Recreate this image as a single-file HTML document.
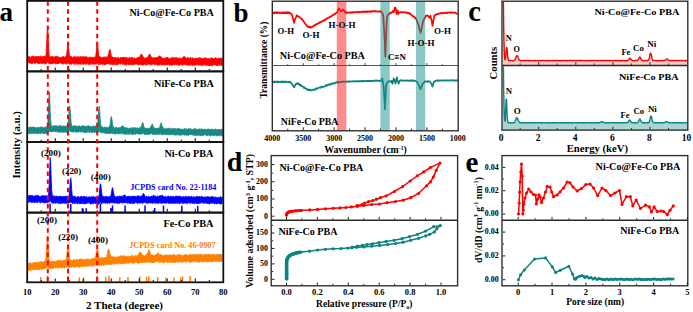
<!DOCTYPE html>
<html><head><meta charset="utf-8"><style>
html,body{margin:0;padding:0;background:#fff;width:693px;height:312px;overflow:hidden}
svg{display:block}
text{font-family:"Liberation Serif",serif}
</style></head><body>
<svg width="693" height="312" viewBox="0 0 693 312">
<polygon points="28.2,56.69 28.7,56.18 29.2,56.37 29.7,57.14 30.2,57.17 30.7,57.13 31.2,56.57 31.7,57.06 32.2,56.26 32.7,56.34 33.2,55.71 33.7,55.91 34.2,57.05 34.7,56.8 35.2,57.01 35.7,56.28 36.2,56.43 36.7,57.22 37.2,56.23 37.7,56.82 38.2,56.61 38.7,56.07 39.2,56.95 39.7,56.51 40.2,56.19 40.7,55.8 41.2,56.7 41.7,57.13 42.2,57.32 42.7,56.17 43.2,56 43.7,56.29 44.2,56.48 44.7,56.07 45.2,56.61 45.7,56.75 46.2,52.82 46.7,43.35 47.2,30.57 47.7,26.41 48.2,36.14 48.7,49.16 49.2,55.42 49.7,56.61 50.2,57.33 50.7,56.61 51.2,56.18 51.7,57.05 52.2,56.93 52.7,55.98 53.2,57.23 53.7,57.15 54.2,56.59 54.7,57.53 55.2,56.95 55.7,56.02 56.2,56.73 56.7,56.48 57.2,56.13 57.7,56.17 58.2,56.95 58.7,57.41 59.2,57.49 59.7,57.26 60.2,57.06 60.7,57.6 61.2,57.45 61.7,57.58 62.2,56.64 62.7,57.23 63.2,57.05 63.7,56.29 64.2,56.9 64.7,57.52 65.2,57.11 65.7,56.27 66.2,57.09 66.7,54.27 67.2,49.49 67.7,44.15 68.2,42.96 68.7,48.77 69.2,54.15 69.7,56.09 70.2,57.09 70.7,56.42 71.2,56.37 71.7,56.43 72.2,57.38 72.7,57.18 73.2,57.71 73.7,57.35 74.2,56.24 74.7,56.28 75.2,56.26 75.7,57.44 76.2,57.48 76.7,56.81 77.2,56.47 77.7,56.77 78.2,57.68 78.7,56.37 79.2,56.64 79.7,57.55 80.2,57.31 80.7,56.3 81.2,57.22 81.7,56.71 82.2,57.67 82.7,56.43 83.2,57.65 83.7,56.32 84.2,57.33 84.7,57.69 85.2,56.36 85.7,57.07 86.2,57.23 86.7,56.61 87.2,57.53 87.7,57.55 88.2,57.53 88.7,57.74 89.2,57.39 89.7,57.03 90.2,57.3 90.7,57.17 91.2,57.14 91.7,57.28 92.2,57.99 92.7,57.72 93.2,56.85 93.7,57.49 94.2,57.13 94.7,57.84 95.2,57.45 95.7,55.62 96.2,52.6 96.7,45.95 97.2,41.97 97.7,44.24 98.2,50.55 98.7,55.16 99.2,56.55 99.7,56.53 100.2,57.19 100.7,56.76 101.2,57.91 101.7,57.99 102.2,58 102.7,56.87 103.2,57.88 103.7,57.08 104.2,56.73 104.7,57.8 105.2,57.52 105.7,56.58 106.2,57.9 106.7,57.29 107.2,57.61 107.7,56.18 108.2,55.11 108.7,53.8 109.2,50.46 109.7,50.03 110.2,49.47 110.7,52.68 111.2,55.17 111.7,56.51 112.2,57.13 112.7,56.83 113.2,57.99 113.7,57.34 114.2,58.12 114.7,57.17 115.2,58.16 115.7,57.27 116.2,58.15 116.7,58.19 117.2,57.58 117.7,57.42 118.2,57.88 118.7,57.48 119.2,58.15 119.7,58.25 120.2,57.84 120.7,57.13 121.2,57.55 121.7,57.8 122.2,57.96 122.7,57.2 123.2,58.07 123.7,56.89 124.2,57.08 124.7,57.6 125.2,57.77 125.7,57.3 126.2,57.86 126.7,57.28 127.2,57.77 127.7,58.33 128.2,58.31 128.7,58.02 129.2,58.3 129.7,57.05 130.2,57.99 130.7,57.98 131.2,58.2 131.7,58.04 132.2,56.91 132.7,58.08 133.2,57.98 133.7,58.47 134.2,57.72 134.7,58.16 135.2,58.48 135.7,58.35 136.2,58.43 136.7,58.02 137.2,57.57 137.7,57.31 138.2,57.37 138.7,57.87 139.2,56.8 139.7,56.84 140.2,57.13 140.7,54.62 141.2,53.91 141.7,54.76 142.2,55.01 142.7,55.71 143.2,56.97 143.7,57.27 144.2,58.16 144.7,58.36 145.2,58.41 145.7,57.69 146.2,57.59 146.7,57.79 147.2,57.21 147.7,57.39 148.2,56.46 148.7,55.26 149.2,55.3 149.7,53.95 150.2,54.59 150.7,56.12 151.2,57.09 151.7,57.16 152.2,57.55 152.7,58.4 153.2,57.47 153.7,57.75 154.2,58.57 154.7,57.6 155.2,57.59 155.7,57.85 156.2,57.94 156.7,57.26 157.2,57.1 157.7,58.49 158.2,56.75 158.7,56.45 159.2,55.95 159.7,55.84 160.2,56.74 160.7,56.4 161.2,57.18 161.7,57.27 162.2,58.36 162.7,57.97 163.2,58.74 163.7,58.03 164.2,58.53 164.7,58.26 165.2,58.76 165.7,57.43 166.2,57.3 166.7,57.34 167.2,58.19 167.7,57.19 168.2,58.22 168.7,58.36 169.2,58.64 169.7,58.35 170.2,58.41 170.7,58 171.2,58.22 171.7,57.41 172.2,57.82 172.7,57.33 173.2,57.69 173.7,57.67 174.2,57.65 174.7,58.4 175.2,57.38 175.7,58.11 176.2,58.39 176.7,57.31 177.2,57.83 177.7,57.99 178.2,58.62 178.7,58.56 179.2,58.1 179.7,57.45 180.2,58.18 180.7,58.6 181.2,58.37 181.7,58.52 182.2,57.91 182.7,57.3 183.2,57.15 183.7,56.57 184.2,57.16 184.7,56.43 185.2,57.8 185.7,57.5 186.2,58.52 186.7,58.32 187.2,57.44 187.7,57.58 188.2,58.92 188.7,57.55 189.2,58.05 189.7,58.37 190.2,57.68 190.7,57.45 191.2,58.83 191.7,58.17 192.2,57.51 192.7,57.98 193.2,58.29 193.7,58.96 194.2,58.66 194.7,58.01 195.2,58.84 195.7,58.03 196.2,58.87 196.7,58.22 197.2,58.44 197.7,58.1 198.2,58.59 198.7,57.54 199.2,57.67 199.7,58.71 200.2,57.55 200.7,58.6 201.2,58.3 201.7,58.43 202.2,58.04 202.7,58.75 203.2,58.57 203.7,58.03 204.2,57.85 204.7,58.32 205.2,57.58 205.7,57.83 206.2,58.79 206.7,58.68 207.2,58.36 207.7,58.8 208.2,58.1 208.7,58.93 209.2,58.83 209.7,58.95 210.2,59.08 210.7,57.75 211.2,58.02 211.7,57.71 212.2,58.9 212.7,58.01 213.2,58.15 213.7,58.61 214.2,58.95 214.7,58.77 215.2,57.7 215.7,57.69 216.2,58.66 216.7,57.93 217.2,59.16 217.7,58.65 218.2,58.94 218.7,57.82 219.2,58.61 219.7,58.04 220.2,59.21 220.7,57.81 221.2,58.09 221.7,58.74 222.2,57.76 222.2,65.48 221.7,64.93 221.2,65.92 220.7,64.89 220.2,64.58 219.7,64.54 219.2,65.76 218.7,64.51 218.2,65.04 217.7,65.92 217.2,65.21 216.7,65.14 216.2,65.75 215.7,64.77 215.2,64.63 214.7,64.99 214.2,64.43 213.7,64.95 213.2,65.02 212.7,64.46 212.2,65.9 211.7,64.93 211.2,65.99 210.7,65.8 210.2,65.01 209.7,64.46 209.2,65.93 208.7,65 208.2,65.88 207.7,65.03 207.2,64.66 206.7,65.87 206.2,65.56 205.7,64.71 205.2,64.84 204.7,64.66 204.2,65.51 203.7,64.64 203.2,64.99 202.7,64.37 202.2,65.79 201.7,64.72 201.2,65.38 200.7,64.33 200.2,65.42 199.7,64.68 199.2,65.04 198.7,65.31 198.2,65.01 197.7,64.29 197.2,64.62 196.7,65.19 196.2,64.37 195.7,65.37 195.2,64.65 194.7,64.73 194.2,65.71 193.7,65.48 193.2,65.11 192.7,65.45 192.2,65.37 191.7,65.31 191.2,64.46 190.7,64.6 190.2,65.57 189.7,65.68 189.2,64.19 188.7,64.94 188.2,65.32 187.7,64.21 187.2,65.53 186.7,64.88 186.2,64.56 185.7,64.5 185.2,65.14 184.7,64.3 184.2,64.51 183.7,64.59 183.2,64.92 182.7,64.77 182.2,65.54 181.7,64.54 181.2,64.27 180.7,64.26 180.2,64.33 179.7,65.7 179.2,64.45 178.7,65.54 178.2,64.35 177.7,64.72 177.2,64.56 176.7,64.49 176.2,65.25 175.7,64.62 175.2,64.27 174.7,64.14 174.2,65.08 173.7,64.77 173.2,64.13 172.7,64.92 172.2,65.5 171.7,65.33 171.2,65.55 170.7,64.33 170.2,64.44 169.7,65.51 169.2,65.34 168.7,64.08 168.2,64.68 167.7,64.94 167.2,64.62 166.7,64.45 166.2,65.12 165.7,64.17 165.2,65.17 164.7,65.31 164.2,64.51 163.7,64.44 163.2,64.74 162.7,63.99 162.2,65.38 161.7,65.06 161.2,64.74 160.7,64.1 160.2,64.68 159.7,64.72 159.2,65.31 158.7,64.27 158.2,65.42 157.7,64.63 157.2,65.39 156.7,64.21 156.2,64.08 155.7,64.63 155.2,64.35 154.7,64.98 154.2,64.3 153.7,63.89 153.2,64.35 152.7,64.26 152.2,63.97 151.7,64.82 151.2,64.9 150.7,64.36 150.2,65.25 149.7,63.98 149.2,64.09 148.7,64.12 148.2,63.87 147.7,64.65 147.2,65 146.7,63.81 146.2,64.88 145.7,64.8 145.2,65.12 144.7,64.36 144.2,63.83 143.7,64.87 143.2,65.16 142.7,65.01 142.2,64.96 141.7,64.41 141.2,64.88 140.7,64.62 140.2,65.01 139.7,64.74 139.2,63.97 138.7,64.25 138.2,65.13 137.7,64.77 137.2,64.56 136.7,64.08 136.2,63.74 135.7,64.34 135.2,64.12 134.7,64.5 134.2,64.49 133.7,64.29 133.2,64.25 132.7,65.22 132.2,64.54 131.7,65.2 131.2,64.37 130.7,64.39 130.2,64.04 129.7,64.72 129.2,64.99 128.7,63.9 128.2,64.82 127.7,63.84 127.2,64.18 126.7,64.63 126.2,64.94 125.7,65.18 125.2,64.41 124.7,64.93 124.2,64.28 123.7,63.76 123.2,64.34 122.7,64.46 122.2,63.59 121.7,63.59 121.2,63.84 120.7,64.01 120.2,64.03 119.7,63.86 119.2,63.79 118.7,63.91 118.2,63.73 117.7,64.99 117.2,64.05 116.7,64.88 116.2,64.86 115.7,64.77 115.2,64.98 114.7,64.16 114.2,63.56 113.7,64.58 113.2,64.92 112.7,63.86 112.2,64.88 111.7,63.58 111.2,64.53 110.7,63.58 110.2,64.6 109.7,64.58 109.2,63.89 108.7,63.71 108.2,63.99 107.7,63.38 107.2,63.88 106.7,63.92 106.2,64.06 105.7,64.69 105.2,64.14 104.7,64.87 104.2,64.89 103.7,63.57 103.2,64.48 102.7,64.76 102.2,64.39 101.7,63.7 101.2,64.02 100.7,63.52 100.2,64.8 99.7,63.7 99.2,64.66 98.7,64.68 98.2,63.79 97.7,63.72 97.2,63.31 96.7,63.43 96.2,64.24 95.7,63.99 95.2,63.67 94.7,64.12 94.2,64.48 93.7,64.05 93.2,64.1 92.7,63.96 92.2,64.48 91.7,63.49 91.2,63.22 90.7,64.03 90.2,64.64 89.7,64.61 89.2,63.89 88.7,64.61 88.2,63.82 87.7,64.08 87.2,63.61 86.7,63.47 86.2,64.52 85.7,64.61 85.2,64.15 84.7,63.13 84.2,63.98 83.7,64.14 83.2,64.41 82.7,64.37 82.2,63.32 81.7,63.34 81.2,64.58 80.7,63.69 80.2,64.33 79.7,64.31 79.2,63.8 78.7,64.28 78.2,64.08 77.7,64.3 77.2,63.78 76.7,64.45 76.2,63.33 75.7,63.36 75.2,63.57 74.7,64.56 74.2,63.69 73.7,64.08 73.2,63.41 72.7,63.01 72.2,63.78 71.7,64.13 71.2,64.23 70.7,64.51 70.2,63.28 69.7,64.13 69.2,63.98 68.7,63.07 68.2,63.35 67.7,63.83 67.2,62.57 66.7,62.99 66.2,64.37 65.7,63.13 65.2,63.29 64.7,63.02 64.2,63.63 63.7,64.43 63.2,63.04 62.7,63.39 62.2,63.07 61.7,64.22 61.2,63.4 60.7,63.05 60.2,62.89 59.7,63.06 59.2,62.9 58.7,63.8 58.2,63.42 57.7,64.05 57.2,64.01 56.7,62.85 56.2,63.74 55.7,63.85 55.2,63.65 54.7,63.41 54.2,63.15 53.7,63.5 53.2,63.09 52.7,62.96 52.2,64.12 51.7,63.37 51.2,64.08 50.7,64.1 50.2,63.4 49.7,64.06 49.2,62.98 48.7,63.48 48.2,61.8 47.7,61.84 47.2,62.4 46.7,62.46 46.2,64.04 45.7,63.72 45.2,63.68 44.7,64.13 44.2,63.34 43.7,63.56 43.2,63.1 42.7,63.51 42.2,63.65 41.7,63.36 41.2,63.78 40.7,62.76 40.2,63.02 39.7,63.95 39.2,63.47 38.7,63.66 38.2,63.02 37.7,63.47 37.2,63.21 36.7,62.85 36.2,62.62 35.7,63.1 35.2,63.43 34.7,63.8 34.2,62.68 33.7,62.95 33.2,62.55 32.7,63.11 32.2,63.98 31.7,62.82 31.2,63.77 30.7,62.59 30.2,63.13 29.7,63.25 29.2,63.01 28.7,62.54 28.2,62.66" fill="#ff0000" stroke="#ff0000" stroke-width="0.8" stroke-linejoin="round" />
<polygon points="28.2,127.83 28.7,127.74 29.2,128.18 29.7,126.89 30.2,126.85 30.7,127.84 31.2,126.82 31.7,127.62 32.2,127.55 32.7,126.85 33.2,127.02 33.7,126.99 34.2,127.28 34.7,127.68 35.2,127.03 35.7,127.85 36.2,127.77 36.7,128.07 37.2,127.65 37.7,126.86 38.2,127.73 38.7,127.96 39.2,127.09 39.7,127.76 40.2,127.21 40.7,127.02 41.2,127.14 41.7,126.88 42.2,127.26 42.7,127.02 43.2,127.7 43.7,127.83 44.2,127.23 44.7,127.48 45.2,127.32 45.7,126.89 46.2,126.63 46.7,127.31 47.2,126.4 47.7,125.22 48.2,117.26 48.7,101.93 49.2,91.74 49.7,96.61 50.2,111.48 50.7,120.83 51.2,125.05 51.7,126.21 52.2,126.3 52.7,126.15 53.2,125.6 53.7,126.51 54.2,125.57 54.7,126.09 55.2,125.42 55.7,126.45 56.2,125.99 56.7,125.65 57.2,126.32 57.7,125.98 58.2,126.13 58.7,126.13 59.2,126.07 59.7,125.36 60.2,126.07 60.7,125.56 61.2,126.58 61.7,126 62.2,126.03 62.7,125.96 63.2,126.59 63.7,125.71 64.2,126.49 64.7,126.1 65.2,126.42 65.7,125.9 66.2,126.48 66.7,125.51 67.2,126.3 67.7,124.8 68.2,123.41 68.7,117.38 69.2,109.64 69.7,105.75 70.2,109.81 70.7,118.13 71.2,122.95 71.7,125.86 72.2,125.9 72.7,126.52 73.2,125.68 73.7,126.65 74.2,125.65 74.7,125.54 75.2,125.88 75.7,125.84 76.2,126.14 76.7,126.14 77.2,126.11 77.7,126.71 78.2,126.06 78.7,125.68 79.2,126.11 79.7,126.1 80.2,126.59 80.7,126.64 81.2,126.06 81.7,125.89 82.2,125.76 82.7,126.07 83.2,126.1 83.7,125.51 84.2,125.75 84.7,126.12 85.2,127.07 85.7,126.71 86.2,125.99 86.7,125.97 87.2,126.84 87.7,125.8 88.2,125.59 88.7,125.7 89.2,126.15 89.7,126.56 90.2,126.15 90.7,126.81 91.2,126.64 91.7,125.92 92.2,126.64 92.7,126.72 93.2,125.99 93.7,125.67 94.2,126.08 94.7,126.76 95.2,126.04 95.7,125.85 96.2,125.62 96.7,126.49 97.2,125.95 97.7,123.48 98.2,117.86 98.7,110.14 99.2,106.08 99.7,110.61 100.2,119.07 100.7,123.9 101.2,126.22 101.7,127.27 102.2,126.65 102.7,127.62 103.2,127.52 103.7,127.4 104.2,126.94 104.7,126.93 105.2,127.67 105.7,127.56 106.2,127.82 106.7,126.77 107.2,127.48 107.7,128.07 108.2,127.34 108.7,127.23 109.2,126.61 109.7,126.51 110.2,123.91 110.7,118.97 111.2,116.52 111.7,117.95 112.2,120.96 112.7,125.73 113.2,127.05 113.7,127.12 114.2,127.93 114.7,128.32 115.2,127.29 115.7,128.39 116.2,127.36 116.7,127.37 117.2,128.11 117.7,128.11 118.2,127.97 118.7,127.47 119.2,127.46 119.7,127.68 120.2,127.31 120.7,127.91 121.2,126.61 121.7,126.21 122.2,126.59 122.7,125.77 123.2,126.09 123.7,126.45 124.2,127.82 124.7,127.54 125.2,127.59 125.7,127.9 126.2,127.59 126.7,127.97 127.2,127.79 127.7,128.3 128.2,128.5 128.7,128.41 129.2,128.48 129.7,128.15 130.2,128.6 130.7,127.68 131.2,127.68 131.7,128.58 132.2,128.17 132.7,127.53 133.2,128.6 133.7,127.42 134.2,128.56 134.7,128.56 135.2,127.53 135.7,127.84 136.2,127.85 136.7,128.61 137.2,127.69 137.7,128.32 138.2,128.75 138.7,128.39 139.2,128.27 139.7,127.41 140.2,127.44 140.7,128.17 141.2,126.61 141.7,125.17 142.2,123.41 142.7,122.52 143.2,123.54 143.7,126.34 144.2,126.67 144.7,128.5 145.2,128.11 145.7,128.62 146.2,128.42 146.7,128.55 147.2,128.53 147.7,127.95 148.2,128.79 148.7,128.83 149.2,127.96 149.7,127.99 150.2,128.06 150.7,126.73 151.2,125.65 151.7,125.44 152.2,123.94 152.7,125.2 153.2,126.58 153.7,127.28 154.2,127.62 154.7,128.47 155.2,128.82 155.7,128.13 156.2,128.84 156.7,128 157.2,128.91 157.7,127.85 158.2,128.8 158.7,127.96 159.2,128.29 159.7,127.15 160.2,125.17 160.7,123.92 161.2,122.57 161.7,124.77 162.2,126.46 162.7,126.64 163.2,127.77 163.7,128.83 164.2,129.04 164.7,128.67 165.2,128.66 165.7,128.26 166.2,128.35 166.7,129.05 167.2,128.69 167.7,127.99 168.2,128.47 168.7,128.69 169.2,128.28 169.7,128.21 170.2,128.11 170.7,128.42 171.2,128.89 171.7,129.2 172.2,128.25 172.7,128.47 173.2,128.77 173.7,128.5 174.2,128.44 174.7,129.14 175.2,128.31 175.7,128.72 176.2,129.37 176.7,129.21 177.2,128.12 177.7,129.31 178.2,128.7 178.7,128.75 179.2,128.31 179.7,128.91 180.2,129.2 180.7,128.96 181.2,129.35 181.7,129.03 182.2,129.15 182.7,129.53 183.2,128.96 183.7,129.07 184.2,129.26 184.7,128.26 185.2,129.29 185.7,129.05 186.2,129.43 186.7,128.48 187.2,128.97 187.7,129.32 188.2,129.15 188.7,128.51 189.2,129.01 189.7,128.91 190.2,128.51 190.7,128.5 191.2,129.18 191.7,129.12 192.2,129.72 192.7,129.34 193.2,129.32 193.7,129.15 194.2,128.84 194.7,128.47 195.2,129.7 195.7,128.52 196.2,129.6 196.7,128.92 197.2,129.8 197.7,128.91 198.2,129.7 198.7,129.52 199.2,129.37 199.7,128.6 200.2,129.64 200.7,129.03 201.2,128.95 201.7,128.8 202.2,129.64 202.7,129.18 203.2,129.32 203.7,129.16 204.2,129.62 204.7,129.27 205.2,129.31 205.7,129.29 206.2,129.23 206.7,129.99 207.2,129.35 207.7,129.08 208.2,129.5 208.7,128.69 209.2,129.15 209.7,130.01 210.2,129.1 210.7,129.61 211.2,129.37 211.7,128.83 212.2,129.09 212.7,129.64 213.2,129.61 213.7,129.39 214.2,129.84 214.7,129.56 215.2,129 215.7,129 216.2,129.47 216.7,129.48 217.2,129.28 217.7,129.74 218.2,129.79 218.7,129.33 219.2,130.18 219.7,129 220.2,130.18 220.7,130.25 221.2,128.98 221.7,129.36 222.2,129.01 222.2,135.74 221.7,135.98 221.2,135.72 220.7,135.12 220.2,135.26 219.7,135.6 219.2,135.84 218.7,135.92 218.2,135.63 217.7,135.24 217.2,135.9 216.7,136.15 216.2,135.15 215.7,135.32 215.2,135.16 214.7,135.52 214.2,135.34 213.7,135.8 213.2,135.38 212.7,135.91 212.2,135.57 211.7,134.73 211.2,135.35 210.7,136.04 210.2,135.96 209.7,135.5 209.2,135.53 208.7,134.73 208.2,135.2 207.7,135.79 207.2,135.39 206.7,135.77 206.2,135.79 205.7,135.27 205.2,134.76 204.7,134.63 204.2,134.74 203.7,134.9 203.2,135.76 202.7,135.55 202.2,135.48 201.7,135.67 201.2,135.74 200.7,135.57 200.2,135.72 199.7,135.57 199.2,134.66 198.7,135.53 198.2,134.63 197.7,134.77 197.2,135.75 196.7,134.42 196.2,135.56 195.7,135.48 195.2,135.53 194.7,135.56 194.2,134.86 193.7,135.24 193.2,135.01 192.7,134.67 192.2,135.33 191.7,134.56 191.2,134.65 190.7,134.66 190.2,134.77 189.7,134.44 189.2,134.67 188.7,135.39 188.2,135.14 187.7,135.58 187.2,135.01 186.7,135.1 186.2,135.29 185.7,134.49 185.2,135.31 184.7,134.91 184.2,135.2 183.7,134.53 183.2,135.12 182.7,134.72 182.2,134.69 181.7,134.19 181.2,135.49 180.7,135.17 180.2,135.05 179.7,135.41 179.2,134.8 178.7,134.96 178.2,135.06 177.7,134.85 177.2,134.76 176.7,135.12 176.2,134.77 175.7,135.37 175.2,134.54 174.7,134.9 174.2,135.28 173.7,134.54 173.2,134.59 172.7,134.3 172.2,134.94 171.7,134.52 171.2,134.8 170.7,134.55 170.2,134.85 169.7,134.87 169.2,135.12 168.7,134.19 168.2,134.92 167.7,134.46 167.2,134.89 166.7,134.69 166.2,134.48 165.7,134.53 165.2,134.93 164.7,133.85 164.2,134.09 163.7,134.68 163.2,134.37 162.7,134.83 162.2,134.18 161.7,134.9 161.2,134.51 160.7,133.77 160.2,133.79 159.7,134.1 159.2,133.9 158.7,134.88 158.2,134.12 157.7,134.02 157.2,134.33 156.7,134.49 156.2,134.28 155.7,134.7 155.2,134.83 154.7,134.09 154.2,134.52 153.7,134.63 153.2,134.16 152.7,134.68 152.2,134.11 151.7,133.8 151.2,133.51 150.7,133.64 150.2,134.1 149.7,134.05 149.2,134.65 148.7,134.65 148.2,134.43 147.7,134.22 147.2,133.82 146.7,134.83 146.2,134.67 145.7,134.18 145.2,134.6 144.7,134.14 144.2,134.78 143.7,133.61 143.2,133.48 142.7,133.31 142.2,133.5 141.7,134.25 141.2,134.42 140.7,133.96 140.2,134.26 139.7,134.1 139.2,133.83 138.7,134.38 138.2,133.72 137.7,133.95 137.2,133.64 136.7,133.48 136.2,133.73 135.7,134.48 135.2,134.46 134.7,133.35 134.2,133.59 133.7,134.62 133.2,134.5 132.7,134.53 132.2,134.41 131.7,134.09 131.2,134.28 130.7,134.13 130.2,133.29 129.7,133.42 129.2,134.52 128.7,133.24 128.2,134.48 127.7,134.06 127.2,133.61 126.7,134.19 126.2,134.37 125.7,134.34 125.2,134.52 124.7,134.11 124.2,134.39 123.7,133.54 123.2,133.5 122.7,134.35 122.2,133.35 121.7,133.06 121.2,133.36 120.7,133.97 120.2,133.8 119.7,133.67 119.2,133.42 118.7,134.23 118.2,134.08 117.7,133.08 117.2,133.16 116.7,133.64 116.2,133.65 115.7,134.18 115.2,133.99 114.7,134.22 114.2,133.39 113.7,133.2 113.2,133.82 112.7,133.68 112.2,132.83 111.7,133.18 111.2,133.42 110.7,132.8 110.2,133.43 109.7,134.07 109.2,133.84 108.7,133.39 108.2,133.22 107.7,133.59 107.2,133 106.7,133.69 106.2,133.44 105.7,132.7 105.2,133.76 104.7,133.07 104.2,132.64 103.7,133.13 103.2,132.76 102.7,132.71 102.2,132.2 101.7,132.44 101.2,133.3 100.7,132.5 100.2,131.78 99.7,131.12 99.2,131.8 98.7,132.41 98.2,131.74 97.7,131.68 97.2,131.92 96.7,132.72 96.2,132.42 95.7,131.93 95.2,132.07 94.7,132.89 94.2,132.73 93.7,132.26 93.2,131.98 92.7,132.22 92.2,132.57 91.7,132.72 91.2,132.78 90.7,131.71 90.2,131.9 89.7,131.81 89.2,132.73 88.7,131.64 88.2,131.82 87.7,131.65 87.2,131.92 86.7,132.74 86.2,131.67 85.7,132.78 85.2,132.81 84.7,132.56 84.2,132.8 83.7,131.58 83.2,131.92 82.7,131.46 82.2,132.47 81.7,131.49 81.2,131.42 80.7,131.98 80.2,131.96 79.7,131.5 79.2,131.6 78.7,132.44 78.2,131.67 77.7,132.2 77.2,131.94 76.7,132.25 76.2,132.14 75.7,131.75 75.2,132.08 74.7,131.47 74.2,131.35 73.7,132.09 73.2,132.55 72.7,131.63 72.2,131.82 71.7,131.81 71.2,131.4 70.7,132.06 70.2,130.79 69.7,130.5 69.2,131.34 68.7,131.4 68.2,131.19 67.7,132.59 67.2,131.41 66.7,132.59 66.2,131.92 65.7,132.52 65.2,131.62 64.7,131.92 64.2,132.08 63.7,132.48 63.2,131.97 62.7,131.42 62.2,132.43 61.7,132.34 61.2,132.45 60.7,131.46 60.2,131.45 59.7,132.57 59.2,131.75 58.7,131.95 58.2,132.49 57.7,131.55 57.2,132.12 56.7,131.27 56.2,131.91 55.7,131.27 55.2,131.89 54.7,131.41 54.2,131.37 53.7,131.57 53.2,131.39 52.7,131.94 52.2,131.38 51.7,131.72 51.2,132.22 50.7,131.49 50.2,132.1 49.7,131.11 49.2,130.94 48.7,131.93 48.2,132.26 47.7,132.87 47.2,133.87 46.7,133.76 46.2,132.75 45.7,133.53 45.2,132.95 44.7,134.02 44.2,133.09 43.7,133.88 43.2,132.98 42.7,132.92 42.2,133.17 41.7,133.07 41.2,132.83 40.7,133.85 40.2,133.62 39.7,133.26 39.2,133.31 38.7,133.38 38.2,132.81 37.7,134.08 37.2,134.08 36.7,133.48 36.2,132.8 35.7,133.77 35.2,132.83 34.7,133.23 34.2,133.19 33.7,133.82 33.2,133.77 32.7,133 32.2,133.44 31.7,133.1 31.2,134.1 30.7,133.43 30.2,132.8 29.7,133.66 29.2,133.84 28.7,133.17 28.2,133.79" fill="#168a85" stroke="#168a85" stroke-width="0.8" stroke-linejoin="round" />
<polygon points="28.2,195.5 28.7,195.39 29.2,195.42 29.7,195.44 30.2,195.31 30.7,196.2 31.2,195.3 31.7,195.49 32.2,195.24 32.7,195.65 33.2,196.05 33.7,196.03 34.2,195.55 34.7,196.45 35.2,196.48 35.7,195.31 36.2,195.16 36.7,196.54 37.2,195.67 37.7,195.08 38.2,195.95 38.7,195.61 39.2,196.36 39.7,196.59 40.2,196.42 40.7,196.48 41.2,196.43 41.7,195.54 42.2,195.52 42.7,196.57 43.2,195.57 43.7,195.55 44.2,195.71 44.7,195.97 45.2,196.29 45.7,195.6 46.2,196.67 46.7,195.46 47.2,196.23 47.7,196.42 48.2,195.52 48.7,193.18 49.2,184.47 49.7,169.32 50.2,157.56 50.7,162.55 51.2,178.87 51.7,189.95 52.2,195.01 52.7,196.74 53.2,195.9 53.7,196.5 54.2,195.54 54.7,196.14 55.2,196.43 55.7,196.53 56.2,196.22 56.7,195.93 57.2,197.18 57.7,196.56 58.2,195.99 58.7,197.19 59.2,196.05 59.7,196.44 60.2,196.03 60.7,196.29 61.2,196.81 61.7,196.5 62.2,197.04 62.7,195.94 63.2,196.44 63.7,196.66 64.2,196.99 64.7,196.18 65.2,197.25 65.7,196.22 66.2,196.52 66.7,196.06 67.2,196.69 67.7,197.13 68.2,197.11 68.7,196.52 69.2,194.78 69.7,190.07 70.2,180.8 70.7,177.86 71.2,181.12 71.7,189.4 72.2,194.63 72.7,197.07 73.2,196.13 73.7,196.63 74.2,196.31 74.7,196.07 75.2,196.27 75.7,197.13 76.2,197.22 76.7,197.4 77.2,196.69 77.7,196.84 78.2,196.16 78.7,196.64 79.2,197.38 79.7,197.18 80.2,196.6 80.7,196.56 81.2,196.9 81.7,196.12 82.2,197.26 82.7,197.21 83.2,196.24 83.7,196.34 84.2,196.43 84.7,196.65 85.2,197.55 85.7,196.49 86.2,196.62 86.7,196.75 87.2,197.5 87.7,197.28 88.2,196.94 88.7,197.32 89.2,196.65 89.7,196.6 90.2,197.64 90.7,197.37 91.2,196.39 91.7,197.5 92.2,197.58 92.7,196.45 93.2,197.05 93.7,196.49 94.2,196.79 94.7,197.42 95.2,196.68 95.7,197.55 96.2,197.37 96.7,197.54 97.2,196.51 97.7,197.52 98.2,197.2 98.7,196.88 99.2,194.68 99.7,188.91 100.2,184.1 100.7,183.83 101.2,188.21 101.7,192.43 102.2,196.56 102.7,196.18 103.2,196.57 103.7,196.18 104.2,196.43 104.7,197.42 105.2,196.35 105.7,197.31 106.2,196.19 106.7,196.68 107.2,197.26 107.7,196.43 108.2,197.37 108.7,196.55 109.2,197.03 109.7,196.49 110.2,196.07 110.7,196.49 111.2,194.12 111.7,191.17 112.2,188.11 112.7,187.72 113.2,190.83 113.7,193.29 114.2,195.14 114.7,196.79 115.2,196.64 115.7,196.66 116.2,197.22 116.7,196.55 117.2,197.04 117.7,195.99 118.2,196.74 118.7,196.65 119.2,197.14 119.7,195.78 120.2,196.45 120.7,196.42 121.2,195.76 121.7,196.92 122.2,196.72 122.7,196.82 123.2,195.39 123.7,195.99 124.2,194.94 124.7,194.95 125.2,195.13 125.7,196.8 126.2,196.36 126.7,196.79 127.2,196.63 127.7,196.35 128.2,197.03 128.7,196.12 129.2,196 129.7,196.66 130.2,195.98 130.7,196.66 131.2,196.08 131.7,196.89 132.2,196.6 132.7,196.04 133.2,196.02 133.7,197.18 134.2,195.81 134.7,196.89 135.2,196.31 135.7,196.46 136.2,196.61 136.7,197.24 137.2,195.8 137.7,195.85 138.2,196.04 138.7,195.93 139.2,196.3 139.7,196.25 140.2,196.45 140.7,196.32 141.2,196.4 141.7,195.51 142.2,195.95 142.7,195.39 143.2,193.32 143.7,194.13 144.2,194.24 144.7,195.75 145.2,196.24 145.7,196.65 146.2,197.11 146.7,196.01 147.2,196.43 147.7,196.99 148.2,196.6 148.7,196.37 149.2,196.83 149.7,196.96 150.2,196.72 150.7,197.28 151.2,195.96 151.7,196.32 152.2,196.5 152.7,196.12 153.2,195.99 153.7,194.8 154.2,196.25 154.7,196.06 155.2,196.89 155.7,195.77 156.2,197.06 156.7,196.78 157.2,196.38 157.7,196.07 158.2,196.2 158.7,196.16 159.2,196.11 159.7,195.85 160.2,195.74 160.7,195.57 161.2,195.6 161.7,195.26 162.2,195.04 162.7,195.66 163.2,196.27 163.7,196.09 164.2,196.7 164.7,196.74 165.2,196.14 165.7,196.58 166.2,197.06 166.7,197.12 167.2,196.46 167.7,195.95 168.2,196.06 168.7,195.89 169.2,196.7 169.7,197.33 170.2,196.49 170.7,195.95 171.2,196.53 171.7,196.57 172.2,196.31 172.7,196.81 173.2,196.82 173.7,196.33 174.2,197.21 174.7,196.75 175.2,196.49 175.7,195.9 176.2,196.69 176.7,195.85 177.2,196.56 177.7,197.11 178.2,195.88 178.7,196.59 179.2,196.02 179.7,196.14 180.2,196.07 180.7,197.23 181.2,196.73 181.7,197.23 182.2,196.52 182.7,196.89 183.2,196.43 183.7,196.76 184.2,196.92 184.7,197.38 185.2,196.11 185.7,196.37 186.2,196.63 186.7,196.98 187.2,196.58 187.7,196.52 188.2,197.21 188.7,196.24 189.2,197.24 189.7,196.6 190.2,196.47 190.7,197.3 191.2,196.23 191.7,196.31 192.2,197.14 192.7,197.25 193.2,196.53 193.7,196.77 194.2,197.45 194.7,196.79 195.2,197.13 195.7,197.43 196.2,196.29 196.7,197.08 197.2,196.23 197.7,196.51 198.2,196.67 198.7,197.05 199.2,196.33 199.7,196.95 200.2,196.69 200.7,197.07 201.2,196.91 201.7,195.99 202.2,196.62 202.7,196.68 203.2,196.89 203.7,197.33 204.2,197 204.7,197.25 205.2,197.2 205.7,196.56 206.2,197.34 206.7,197.45 207.2,196.34 207.7,196.95 208.2,196.41 208.7,197.11 209.2,197.09 209.7,197.36 210.2,196.92 210.7,197.01 211.2,196.64 211.7,196.36 212.2,197.18 212.7,196.83 213.2,196.44 213.7,197 214.2,197.38 214.7,197.22 215.2,196.95 215.7,197.24 216.2,197.57 216.7,197.35 217.2,197.66 217.7,197.27 218.2,197.38 218.7,197.39 219.2,197.71 219.7,197.5 220.2,196.56 220.7,196.62 221.2,197.77 221.7,197.94 222.2,196.99 222.2,203.49 221.7,203.98 221.2,203.35 220.7,204.23 220.2,204.08 219.7,203.51 219.2,203.97 218.7,203.21 218.2,202.95 217.7,203.6 217.2,203.68 216.7,203.82 216.2,204.1 215.7,202.92 215.2,203.25 214.7,203.76 214.2,203.92 213.7,203.56 213.2,202.91 212.7,203.03 212.2,203.07 211.7,203.58 211.2,203.07 210.7,202.86 210.2,202.99 209.7,204.08 209.2,204.08 208.7,203.71 208.2,202.84 207.7,203.85 207.2,202.76 206.7,202.96 206.2,203.61 205.7,203.05 205.2,202.57 204.7,202.93 204.2,202.86 203.7,203.73 203.2,202.56 202.7,203.04 202.2,202.61 201.7,202.87 201.2,202.69 200.7,202.66 200.2,203.59 199.7,203.71 199.2,202.71 198.7,202.97 198.2,203.82 197.7,203.83 197.2,202.84 196.7,203.75 196.2,203.68 195.7,202.46 195.2,203.33 194.7,203.84 194.2,203.73 193.7,202.95 193.2,202.89 192.7,203.74 192.2,202.77 191.7,202.9 191.2,202.85 190.7,202.38 190.2,203.58 189.7,203.61 189.2,202.61 188.7,202.52 188.2,202.59 187.7,202.98 187.2,203.87 186.7,203.33 186.2,203.19 185.7,202.65 185.2,203.24 184.7,202.81 184.2,203.39 183.7,203.54 183.2,202.41 182.7,203.85 182.2,203.26 181.7,202.62 181.2,203.11 180.7,202.78 180.2,202.98 179.7,203.84 179.2,203.38 178.7,202.5 178.2,203.58 177.7,202.81 177.2,203.57 176.7,202.85 176.2,203.27 175.7,203.06 175.2,203.66 174.7,203.17 174.2,202.89 173.7,203.12 173.2,203.76 172.7,203.22 172.2,202.91 171.7,203.1 171.2,203.83 170.7,203.49 170.2,203.07 169.7,202.38 169.2,203.69 168.7,202.62 168.2,203.58 167.7,202.8 167.2,202.44 166.7,203.18 166.2,202.76 165.7,202.97 165.2,203.59 164.7,202.79 164.2,203.14 163.7,202.73 163.2,202.97 162.7,202.83 162.2,203.56 161.7,202.86 161.2,203.7 160.7,203.15 160.2,202.28 159.7,202.47 159.2,203.36 158.7,203 158.2,203.41 157.7,203.07 157.2,203.57 156.7,203.3 156.2,202.79 155.7,203.39 155.2,202.6 154.7,203.36 154.2,202.81 153.7,202.88 153.2,202.32 152.7,203.41 152.2,203.75 151.7,203.01 151.2,202.63 150.7,202.8 150.2,203.15 149.7,203.04 149.2,202.63 148.7,202.97 148.2,203.09 147.7,203.34 147.2,203.24 146.7,203.18 146.2,203.08 145.7,202.61 145.2,202.84 144.7,202.38 144.2,202.36 143.7,202.82 143.2,202.9 142.7,203.06 142.2,203.18 141.7,202.66 141.2,202.9 140.7,202.62 140.2,203.64 139.7,202.65 139.2,202.64 138.7,202.29 138.2,203.58 137.7,203.2 137.2,203.41 136.7,202.44 136.2,203 135.7,202.33 135.2,202.78 134.7,202.87 134.2,203.65 133.7,203.01 133.2,203.51 132.7,203.61 132.2,203.71 131.7,202.73 131.2,202.73 130.7,203.65 130.2,203.01 129.7,202.85 129.2,203.64 128.7,202.46 128.2,203.08 127.7,203.52 127.2,202.42 126.7,202.39 126.2,202.96 125.7,202.37 125.2,203.25 124.7,202.3 124.2,202.93 123.7,203.05 123.2,202.46 122.7,202.33 122.2,203.43 121.7,202.35 121.2,202.53 120.7,202.22 120.2,203 119.7,202.94 119.2,203.52 118.7,203.33 118.2,203.27 117.7,203.5 117.2,203.27 116.7,202.97 116.2,202.97 115.7,203.09 115.2,202.43 114.7,203.45 114.2,202.58 113.7,202.83 113.2,201.99 112.7,203.17 112.2,202.4 111.7,202.14 111.2,202.85 110.7,202.42 110.2,203.25 109.7,203.47 109.2,202.73 108.7,203.19 108.2,202.58 107.7,202.77 107.2,203.66 106.7,202.72 106.2,202.86 105.7,203.21 105.2,203.37 104.7,202.59 104.2,203.13 103.7,202.66 103.2,203.1 102.7,202.75 102.2,203.08 101.7,203.93 101.2,203.79 100.7,202.38 100.2,202.56 99.7,202.7 99.2,203.98 98.7,204.21 98.2,204.12 97.7,203.5 97.2,203.25 96.7,203.15 96.2,203.36 95.7,204.05 95.2,203.56 94.7,202.8 94.2,202.92 93.7,203.43 93.2,203.21 92.7,203.64 92.2,204.09 91.7,203.36 91.2,204.02 90.7,204.08 90.2,204.07 89.7,202.95 89.2,202.66 88.7,202.86 88.2,202.89 87.7,202.81 87.2,203.11 86.7,203.77 86.2,203.06 85.7,204.03 85.2,202.82 84.7,204.09 84.2,203.66 83.7,202.65 83.2,203.94 82.7,203.1 82.2,202.62 81.7,204.06 81.2,202.79 80.7,203.14 80.2,203.99 79.7,203.38 79.2,203.98 78.7,203.12 78.2,202.61 77.7,203.94 77.2,203.82 76.7,202.57 76.2,202.76 75.7,202.53 75.2,203.93 74.7,203.63 74.2,203.1 73.7,202.85 73.2,203.18 72.7,203.93 72.2,202.36 71.7,202.59 71.2,201.9 70.7,202.4 70.2,202.22 69.7,202.11 69.2,203.08 68.7,203.23 68.2,203.45 67.7,202.67 67.2,203.27 66.7,203.16 66.2,203.72 65.7,202.71 65.2,203.57 64.7,203.04 64.2,203.47 63.7,202.64 63.2,203.35 62.7,202.67 62.2,203.45 61.7,203.51 61.2,202.42 60.7,203.68 60.2,203.51 59.7,202.68 59.2,203.56 58.7,203.48 58.2,203.54 57.7,203.06 57.2,202.54 56.7,202.55 56.2,203.45 55.7,203.11 55.2,203.39 54.7,202.48 54.2,203.25 53.7,202.89 53.2,203.2 52.7,203.39 52.2,202.28 51.7,202.78 51.2,202.16 50.7,200.78 50.2,200.83 49.7,201.61 49.2,202.19 48.7,202.44 48.2,201.76 47.7,202.98 47.2,202.78 46.7,201.78 46.2,202.64 45.7,201.66 45.2,203.11 44.7,203.05 44.2,202.7 43.7,201.75 43.2,202.91 42.7,202.78 42.2,201.88 41.7,201.96 41.2,201.61 40.7,202.9 40.2,203.04 39.7,202.6 39.2,201.58 38.7,201.87 38.2,201.7 37.7,202.26 37.2,202.95 36.7,202.11 36.2,202.19 35.7,202.38 35.2,201.68 34.7,202.35 34.2,202.9 33.7,202.13 33.2,202.11 32.7,201.85 32.2,202.65 31.7,202.01 31.2,202.83 30.7,201.49 30.2,201.58 29.7,202.11 29.2,201.73 28.7,202.31 28.2,202.35" fill="#0000ff" stroke="#0000ff" stroke-width="0.8" stroke-linejoin="round" />
<polygon points="28.2,263.54 28.7,263.02 29.2,262.73 29.7,263.04 30.2,263.83 30.7,262.76 31.2,263.85 31.7,263.6 32.2,263.32 32.7,263.7 33.2,262.67 33.7,262.29 34.2,262.44 34.7,262.85 35.2,262.94 35.7,262.1 36.2,262.95 36.7,261.97 37.2,263.24 37.7,263.08 38.2,262.87 38.7,261.94 39.2,261.98 39.7,261.84 40.2,262.55 40.7,261.42 41.2,261.39 41.7,261.66 42.2,261.79 42.7,262.68 43.2,262.01 43.7,261.15 44.2,261.37 44.7,261.4 45.2,261.88 45.7,259.42 46.2,255.26 46.7,246.04 47.2,236.2 47.7,237.61 48.2,247.2 48.7,257.02 49.2,260.38 49.7,260.56 50.2,261.69 50.7,261.92 51.2,261.58 51.7,261.19 52.2,261.78 52.7,261.04 53.2,260.74 53.7,261.77 54.2,261.33 54.7,261.79 55.2,261.53 55.7,261.09 56.2,261.26 56.7,261.16 57.2,261.6 57.7,260.07 58.2,261.52 58.7,260.02 59.2,261.41 59.7,260.84 60.2,260.64 60.7,259.99 61.2,260.44 61.7,260.38 62.2,261.01 62.7,261.34 63.2,259.99 63.7,261.03 64.2,259.93 64.7,261.01 65.2,259.88 65.7,260.5 66.2,258.69 66.7,256.23 67.2,250.28 67.7,245.31 68.2,245.46 68.7,250.81 69.2,256.13 69.7,259.37 70.2,260.6 70.7,260 71.2,259.81 71.7,260.19 72.2,260.74 72.7,260.14 73.2,259.65 73.7,259.43 74.2,259.49 74.7,260.29 75.2,259.88 75.7,260.14 76.2,259.58 76.7,259.17 77.2,260.13 77.7,259.67 78.2,260.24 78.7,260.01 79.2,258.92 79.7,259.07 80.2,258.89 80.7,259.1 81.2,259.3 81.7,259.89 82.2,258.79 82.7,259.27 83.2,259.74 83.7,260.22 84.2,259.13 84.7,260.08 85.2,259.58 85.7,259.48 86.2,259.21 86.7,259.92 87.2,258.63 87.7,259.87 88.2,259.62 88.7,259.14 89.2,259.18 89.7,259.58 90.2,259.73 90.7,258.91 91.2,259.16 91.7,259.06 92.2,258.84 92.7,258.45 93.2,258.03 93.7,259.43 94.2,258.9 94.7,257.85 95.2,257.64 95.7,255.96 96.2,253.34 96.7,249.67 97.2,248.08 97.7,249.98 98.2,253.75 98.7,256.42 99.2,257.33 99.7,258.75 100.2,258.45 100.7,257.86 101.2,258.73 101.7,257.68 102.2,257.66 102.7,257.8 103.2,257.85 103.7,258.52 104.2,257.55 104.7,258.29 105.2,257.15 105.7,258.14 106.2,257.66 106.7,256.48 107.2,254.5 107.7,252.06 108.2,249.36 108.7,249.14 109.2,249.86 109.7,252.97 110.2,254.77 110.7,255.66 111.2,257.34 111.7,256.76 112.2,257.13 112.7,256.51 113.2,256.42 113.7,257.68 114.2,257.4 114.7,256.75 115.2,257.39 115.7,256.86 116.2,256.94 116.7,257.52 117.2,256.94 117.7,256.69 118.2,257.32 118.7,256.25 119.2,256.86 119.7,256.83 120.2,256.36 120.7,255.59 121.2,256.28 121.7,255.75 122.2,256.13 122.7,256.55 123.2,255.83 123.7,255.58 124.2,256.6 124.7,255.87 125.2,256.03 125.7,256.15 126.2,256.93 126.7,256.49 127.2,256.21 127.7,256.59 128.2,256.4 128.7,256.94 129.2,256.19 129.7,255.99 130.2,256.63 130.7,256.39 131.2,255.68 131.7,255.32 132.2,255.33 132.7,256.69 133.2,255.86 133.7,256.21 134.2,256.07 134.7,256.65 135.2,255.27 135.7,256.3 136.2,256.43 136.7,255.51 137.2,255.91 137.7,255.34 138.2,254.79 138.7,253.85 139.2,253.07 139.7,251.86 140.2,252.28 140.7,252.87 141.2,252.6 141.7,253.49 142.2,255.21 142.7,255.12 143.2,255.26 143.7,256.34 144.2,256.37 144.7,255.88 145.2,255.42 145.7,255.57 146.2,254.61 146.7,254 147.2,253.64 147.7,252.7 148.2,251.56 148.7,249.8 149.2,250.06 149.7,251.74 150.2,253.16 150.7,254.21 151.2,254.61 151.7,254.92 152.2,254.89 152.7,254.9 153.2,255.41 153.7,255.28 154.2,255.91 154.7,255.32 155.2,254.8 155.7,254.32 156.2,254.36 156.7,254.89 157.2,254.08 157.7,252.93 158.2,252.64 158.7,254.66 159.2,254.31 159.7,255.55 160.2,254.63 160.7,254.32 161.2,254.88 161.7,254.61 162.2,255.38 162.7,255.73 163.2,255.8 163.7,255.24 164.2,255.8 164.7,255.22 165.2,254.34 165.7,255.51 166.2,255.45 166.7,255.49 167.2,254.62 167.7,255.37 168.2,255.5 168.7,255.6 169.2,254.43 169.7,254.61 170.2,255.38 170.7,255.04 171.2,255.56 171.7,254.85 172.2,254.87 172.7,255.47 173.2,255.22 173.7,254.39 174.2,254.39 174.7,255.31 175.2,255.61 175.7,255.77 176.2,255.53 176.7,255.62 177.2,254.65 177.7,255.21 178.2,254.59 178.7,254.16 179.2,255.37 179.7,254.62 180.2,254.92 180.7,255.03 181.2,255.7 181.7,255.21 182.2,255.53 182.7,255.5 183.2,255.42 183.7,255.47 184.2,254.89 184.7,255.12 185.2,254.19 185.7,255.34 186.2,254.24 186.7,255.23 187.2,255.24 187.7,255.6 188.2,255 188.7,255.07 189.2,254.53 189.7,254.76 190.2,254.52 190.7,254.21 191.2,254.98 191.7,254.95 192.2,254.99 192.7,254.95 193.2,253.99 193.7,254.62 194.2,255.19 194.7,254.99 195.2,255.27 195.7,254.22 196.2,254.1 196.7,254.45 197.2,254.52 197.7,255.06 198.2,255.57 198.7,254.17 199.2,254.59 199.7,255.17 200.2,254.34 200.7,254.38 201.2,254.68 201.7,254.43 202.2,254.5 202.7,255.16 203.2,255.09 203.7,254.74 204.2,254.66 204.7,255.15 205.2,253.99 205.7,254.64 206.2,254.16 206.7,255.21 207.2,254.73 207.7,254.13 208.2,254.06 208.7,254.85 209.2,254.13 209.7,255.21 210.2,255.29 210.7,254.14 211.2,254.71 211.7,254.8 212.2,254.3 212.7,254.65 213.2,254.19 213.7,254.31 214.2,254.57 214.7,254.81 215.2,254.79 215.7,255.08 216.2,255.3 216.7,254.22 217.2,254.86 217.7,254.02 218.2,254.34 218.7,255.05 219.2,254.08 219.7,254.76 220.2,254.64 220.7,254.19 221.2,254.68 221.7,254.02 222.2,254.71 222.2,261.62 221.7,261.25 221.2,261.74 220.7,261.17 220.2,261.29 219.7,260.77 219.2,261.71 218.7,261.4 218.2,262.12 217.7,260.87 217.2,261.12 216.7,261.17 216.2,261.02 215.7,261.67 215.2,260.77 214.7,261.3 214.2,261.14 213.7,261.35 213.2,261 212.7,262.07 212.2,261.5 211.7,262.4 211.2,260.92 210.7,261.64 210.2,261.37 209.7,261.2 209.2,261 208.7,262.16 208.2,260.88 207.7,262.27 207.2,261.86 206.7,262.16 206.2,261.22 205.7,261.69 205.2,261.7 204.7,261.07 204.2,261.62 203.7,262.03 203.2,262.34 202.7,261.86 202.2,261.75 201.7,261.4 201.2,261.87 200.7,261.52 200.2,261.5 199.7,261.92 199.2,262.52 198.7,261.73 198.2,262.12 197.7,262.49 197.2,261.81 196.7,261.45 196.2,261 195.7,262.21 195.2,261.12 194.7,261.33 194.2,261.94 193.7,262.46 193.2,260.96 192.7,261.19 192.2,261.59 191.7,262.55 191.2,261.49 190.7,262.15 190.2,262.58 189.7,261.88 189.2,262.06 188.7,261.01 188.2,261.91 187.7,261.83 187.2,261.12 186.7,261.3 186.2,262.21 185.7,262.6 185.2,261.6 184.7,261.84 184.2,261.22 183.7,262.25 183.2,262.16 182.7,261.75 182.2,261.85 181.7,262.49 181.2,262.68 180.7,261.24 180.2,261.45 179.7,261.14 179.2,262.38 178.7,261.14 178.2,262.53 177.7,262.6 177.2,261.25 176.7,261.38 176.2,262.31 175.7,262.61 175.2,262.71 174.7,261.17 174.2,262.76 173.7,261.43 173.2,262.41 172.7,262.59 172.2,262.59 171.7,261.89 171.2,262.27 170.7,262.62 170.2,261.71 169.7,262.52 169.2,261.62 168.7,262.59 168.2,262.12 167.7,262.82 167.2,262.25 166.7,261.53 166.2,261.92 165.7,261.62 165.2,262.24 164.7,262.72 164.2,262.15 163.7,262.64 163.2,262.29 162.7,262.44 162.2,262.72 161.7,262 161.2,261.82 160.7,262.07 160.2,261.66 159.7,261.32 159.2,262.78 158.7,261.54 158.2,261.83 157.7,261.53 157.2,262.08 156.7,261.54 156.2,261.51 155.7,261.77 155.2,262.01 154.7,262.51 154.2,261.47 153.7,263.01 153.2,261.94 152.7,263.1 152.2,262.02 151.7,262.78 151.2,261.95 150.7,262.06 150.2,262.55 149.7,262.38 149.2,262.06 148.7,261.52 148.2,261.66 147.7,261.66 147.2,262.78 146.7,261.75 146.2,262.62 145.7,261.75 145.2,262.17 144.7,262.57 144.2,262.8 143.7,262.47 143.2,262.36 142.7,262.47 142.2,263.03 141.7,262.13 141.2,262.8 140.7,262.6 140.2,261.95 139.7,263.19 139.2,261.94 138.7,263.45 138.2,262.26 137.7,263.39 137.2,262.33 136.7,262.38 136.2,262.48 135.7,262.09 135.2,262.52 134.7,262.88 134.2,263.52 133.7,263.39 133.2,263.75 132.7,262.45 132.2,263.12 131.7,262.74 131.2,263.1 130.7,262.72 130.2,262.34 129.7,262.74 129.2,262.99 128.7,263.71 128.2,262.52 127.7,262.7 127.2,262.93 126.7,263.96 126.2,262.92 125.7,263.04 125.2,262.97 124.7,263.24 124.2,263.68 123.7,263.56 123.2,263.89 122.7,262.94 122.2,263.53 121.7,263.78 121.2,263.79 120.7,262.6 120.2,264.12 119.7,263.52 119.2,263.46 118.7,263.13 118.2,262.97 117.7,264.38 117.2,262.85 116.7,263.81 116.2,263.49 115.7,263.9 115.2,263.59 114.7,263.11 114.2,264.55 113.7,263.67 113.2,264.18 112.7,263.87 112.2,263.53 111.7,263.95 111.2,264.68 110.7,263.41 110.2,264.75 109.7,263.51 109.2,263.22 108.7,264.5 108.2,264.13 107.7,263.63 107.2,264.67 106.7,264.59 106.2,265.08 105.7,263.88 105.2,264.85 104.7,264.67 104.2,264.4 103.7,265.55 103.2,265.39 102.7,264.29 102.2,264.24 101.7,265.76 101.2,264.87 100.7,265.65 100.2,265.6 99.7,265.61 99.2,265.85 98.7,265.34 98.2,265.34 97.7,264.86 97.2,264.56 96.7,265.15 96.2,265.03 95.7,264.74 95.2,264.99 94.7,265.76 94.2,265.17 93.7,266.29 93.2,266.16 92.7,265.21 92.2,266.24 91.7,266.52 91.2,265.28 90.7,265.33 90.2,266.09 89.7,266.22 89.2,266.21 88.7,265.75 88.2,265.52 87.7,266.8 87.2,266.31 86.7,265.74 86.2,266.12 85.7,266.36 85.2,266.47 84.7,266.63 84.2,266.31 83.7,265.91 83.2,267.07 82.7,266.14 82.2,266.47 81.7,266.64 81.2,266.73 80.7,265.86 80.2,266.8 79.7,267.41 79.2,267.33 78.7,266.62 78.2,266.03 77.7,266.49 77.2,266.67 76.7,266.24 76.2,267.35 75.7,266.75 75.2,266.74 74.7,267.16 74.2,266.8 73.7,267.53 73.2,266.17 72.7,266.5 72.2,266.28 71.7,267.83 71.2,266.54 70.7,266.43 70.2,266.8 69.7,267.12 69.2,267.75 68.7,267.11 68.2,266.72 67.7,265.75 67.2,267.33 66.7,267.19 66.2,267 65.7,266.85 65.2,267.8 64.7,267.9 64.2,268.16 63.7,267.71 63.2,267.18 62.7,267.99 62.2,266.98 61.7,267.19 61.2,268.33 60.7,267.88 60.2,266.87 59.7,267.2 59.2,267.72 58.7,267.87 58.2,268.16 57.7,268.25 57.2,267.07 56.7,267.36 56.2,267.89 55.7,267.34 55.2,268.33 54.7,267.68 54.2,267.59 53.7,267.76 53.2,268.68 52.7,268.11 52.2,268.48 51.7,268.66 51.2,268.79 50.7,268.41 50.2,268.96 49.7,268.12 49.2,268.26 48.7,267.77 48.2,268.05 47.7,266.7 47.2,266.77 46.7,267.52 46.2,267.88 45.7,268.79 45.2,268.73 44.7,269.21 44.2,268.02 43.7,268.2 43.2,268.88 42.7,269.24 42.2,268.89 41.7,269.55 41.2,269.38 40.7,268.99 40.2,268.49 39.7,269.75 39.2,269.09 38.7,268.64 38.2,270.04 37.7,269.89 37.2,269.05 36.7,269.69 36.2,268.82 35.7,270.06 35.2,268.85 34.7,270.01 34.2,269.36 33.7,269.93 33.2,269.34 32.7,269.6 32.2,269.77 31.7,269.52 31.2,269.31 30.7,270.46 30.2,270.84 29.7,269.69 29.2,270.02 28.7,269.9 28.2,270.62" fill="#ff8000" stroke="#ff8000" stroke-width="0.8" stroke-linejoin="round" />
<line x1="50.1" y1="203.5" x2="50.1" y2="212.3" stroke="#0000ff" stroke-width="1.5" />
<line x1="70.8" y1="204" x2="70.8" y2="212.3" stroke="#0000ff" stroke-width="1.5" />
<line x1="82.4" y1="208.2" x2="82.4" y2="212.3" stroke="#0000ff" stroke-width="1.5" />
<line x1="86.2" y1="208.2" x2="86.2" y2="212.3" stroke="#0000ff" stroke-width="1.5" />
<line x1="100.4" y1="204" x2="100.4" y2="212.3" stroke="#0000ff" stroke-width="1.5" />
<line x1="111" y1="208" x2="111" y2="212.3" stroke="#0000ff" stroke-width="1.5" />
<line x1="112.5" y1="205.5" x2="112.5" y2="212.3" stroke="#0000ff" stroke-width="1.5" />
<line x1="125.1" y1="205.5" x2="125.1" y2="212.3" stroke="#0000ff" stroke-width="1.5" />
<line x1="145" y1="205.5" x2="145" y2="212.3" stroke="#0000ff" stroke-width="1.5" />
<line x1="154.7" y1="208" x2="154.7" y2="212.3" stroke="#0000ff" stroke-width="1.5" />
<line x1="163.5" y1="205.5" x2="163.5" y2="212.3" stroke="#0000ff" stroke-width="1.5" />
<line x1="181.9" y1="205.8" x2="181.9" y2="212.3" stroke="#0000ff" stroke-width="1.5" />
<line x1="197.7" y1="205.8" x2="197.7" y2="212.3" stroke="#0000ff" stroke-width="1.5" />
<line x1="40.9" y1="277" x2="40.9" y2="282.3" stroke="#ff8000" stroke-width="1.5" />
<line x1="47.5" y1="275.5" x2="47.5" y2="282.3" stroke="#ff8000" stroke-width="1.5" />
<line x1="68.3" y1="276" x2="68.3" y2="282.3" stroke="#ff8000" stroke-width="1.5" />
<line x1="79.3" y1="277.5" x2="79.3" y2="282.3" stroke="#ff8000" stroke-width="1.5" />
<line x1="83.6" y1="277.5" x2="83.6" y2="282.3" stroke="#ff8000" stroke-width="1.5" />
<line x1="97.2" y1="276" x2="97.2" y2="282.3" stroke="#ff8000" stroke-width="1.5" />
<line x1="105.8" y1="277" x2="105.8" y2="282.3" stroke="#ff8000" stroke-width="1.5" />
<line x1="109" y1="275.8" x2="109" y2="282.3" stroke="#ff8000" stroke-width="1.5" />
<line x1="119.8" y1="277" x2="119.8" y2="282.3" stroke="#ff8000" stroke-width="1.5" />
<line x1="128" y1="277" x2="128" y2="282.3" stroke="#ff8000" stroke-width="1.5" />
<line x1="139.7" y1="276.5" x2="139.7" y2="282.3" stroke="#ff8000" stroke-width="1.5" />
<line x1="146.5" y1="277" x2="146.5" y2="282.3" stroke="#ff8000" stroke-width="1.5" />
<line x1="148.7" y1="276" x2="148.7" y2="282.3" stroke="#ff8000" stroke-width="1.5" />
<line x1="157.7" y1="277" x2="157.7" y2="282.3" stroke="#ff8000" stroke-width="1.5" />
<line x1="165.8" y1="277.5" x2="165.8" y2="282.3" stroke="#ff8000" stroke-width="1.5" />
<line x1="174" y1="277.5" x2="174" y2="282.3" stroke="#ff8000" stroke-width="1.5" />
<line x1="180.8" y1="277.5" x2="180.8" y2="282.3" stroke="#ff8000" stroke-width="1.5" />
<line x1="182.6" y1="276.5" x2="182.6" y2="282.3" stroke="#ff8000" stroke-width="1.5" />
<line x1="190.2" y1="276" x2="190.2" y2="282.3" stroke="#ff8000" stroke-width="1.5" />
<rect x="27.2" y="0.9" width="196.1" height="70.5" fill="none" stroke="#111" stroke-width="1.8"/>
<line x1="55.21" y1="70.5" x2="55.21" y2="67.5" stroke="#111" stroke-width="1.1" />
<line x1="83.23" y1="70.5" x2="83.23" y2="67.5" stroke="#111" stroke-width="1.1" />
<line x1="111.24" y1="70.5" x2="111.24" y2="67.5" stroke="#111" stroke-width="1.1" />
<line x1="139.26" y1="70.5" x2="139.26" y2="67.5" stroke="#111" stroke-width="1.1" />
<line x1="167.27" y1="70.5" x2="167.27" y2="67.5" stroke="#111" stroke-width="1.1" />
<line x1="195.29" y1="70.5" x2="195.29" y2="67.5" stroke="#111" stroke-width="1.1" />
<line x1="41.21" y1="70.5" x2="41.21" y2="69" stroke="#111" stroke-width="1.1" />
<line x1="69.22" y1="70.5" x2="69.22" y2="69" stroke="#111" stroke-width="1.1" />
<line x1="97.24" y1="70.5" x2="97.24" y2="69" stroke="#111" stroke-width="1.1" />
<line x1="125.25" y1="70.5" x2="125.25" y2="69" stroke="#111" stroke-width="1.1" />
<line x1="153.26" y1="70.5" x2="153.26" y2="69" stroke="#111" stroke-width="1.1" />
<line x1="181.28" y1="70.5" x2="181.28" y2="69" stroke="#111" stroke-width="1.1" />
<line x1="209.29" y1="70.5" x2="209.29" y2="69" stroke="#111" stroke-width="1.1" />
<rect x="27.2" y="71.4" width="196.1" height="70.7" fill="none" stroke="#111" stroke-width="1.8"/>
<line x1="55.21" y1="141.2" x2="55.21" y2="138.2" stroke="#111" stroke-width="1.1" />
<line x1="83.23" y1="141.2" x2="83.23" y2="138.2" stroke="#111" stroke-width="1.1" />
<line x1="111.24" y1="141.2" x2="111.24" y2="138.2" stroke="#111" stroke-width="1.1" />
<line x1="139.26" y1="141.2" x2="139.26" y2="138.2" stroke="#111" stroke-width="1.1" />
<line x1="167.27" y1="141.2" x2="167.27" y2="138.2" stroke="#111" stroke-width="1.1" />
<line x1="195.29" y1="141.2" x2="195.29" y2="138.2" stroke="#111" stroke-width="1.1" />
<line x1="41.21" y1="141.2" x2="41.21" y2="139.7" stroke="#111" stroke-width="1.1" />
<line x1="69.22" y1="141.2" x2="69.22" y2="139.7" stroke="#111" stroke-width="1.1" />
<line x1="97.24" y1="141.2" x2="97.24" y2="139.7" stroke="#111" stroke-width="1.1" />
<line x1="125.25" y1="141.2" x2="125.25" y2="139.7" stroke="#111" stroke-width="1.1" />
<line x1="153.26" y1="141.2" x2="153.26" y2="139.7" stroke="#111" stroke-width="1.1" />
<line x1="181.28" y1="141.2" x2="181.28" y2="139.7" stroke="#111" stroke-width="1.1" />
<line x1="209.29" y1="141.2" x2="209.29" y2="139.7" stroke="#111" stroke-width="1.1" />
<rect x="27.2" y="142.1" width="196.1" height="70.5" fill="none" stroke="#111" stroke-width="1.8"/>
<line x1="55.21" y1="211.7" x2="55.21" y2="208.7" stroke="#111" stroke-width="1.1" />
<line x1="83.23" y1="211.7" x2="83.23" y2="208.7" stroke="#111" stroke-width="1.1" />
<line x1="111.24" y1="211.7" x2="111.24" y2="208.7" stroke="#111" stroke-width="1.1" />
<line x1="139.26" y1="211.7" x2="139.26" y2="208.7" stroke="#111" stroke-width="1.1" />
<line x1="167.27" y1="211.7" x2="167.27" y2="208.7" stroke="#111" stroke-width="1.1" />
<line x1="195.29" y1="211.7" x2="195.29" y2="208.7" stroke="#111" stroke-width="1.1" />
<line x1="41.21" y1="211.7" x2="41.21" y2="210.2" stroke="#111" stroke-width="1.1" />
<line x1="69.22" y1="211.7" x2="69.22" y2="210.2" stroke="#111" stroke-width="1.1" />
<line x1="97.24" y1="211.7" x2="97.24" y2="210.2" stroke="#111" stroke-width="1.1" />
<line x1="125.25" y1="211.7" x2="125.25" y2="210.2" stroke="#111" stroke-width="1.1" />
<line x1="153.26" y1="211.7" x2="153.26" y2="210.2" stroke="#111" stroke-width="1.1" />
<line x1="181.28" y1="211.7" x2="181.28" y2="210.2" stroke="#111" stroke-width="1.1" />
<line x1="209.29" y1="211.7" x2="209.29" y2="210.2" stroke="#111" stroke-width="1.1" />
<rect x="27.2" y="212.6" width="196.1" height="69.7" fill="none" stroke="#111" stroke-width="1.8"/>
<line x1="55.21" y1="281.4" x2="55.21" y2="278.4" stroke="#111" stroke-width="1.1" />
<line x1="83.23" y1="281.4" x2="83.23" y2="278.4" stroke="#111" stroke-width="1.1" />
<line x1="111.24" y1="281.4" x2="111.24" y2="278.4" stroke="#111" stroke-width="1.1" />
<line x1="139.26" y1="281.4" x2="139.26" y2="278.4" stroke="#111" stroke-width="1.1" />
<line x1="167.27" y1="281.4" x2="167.27" y2="278.4" stroke="#111" stroke-width="1.1" />
<line x1="195.29" y1="281.4" x2="195.29" y2="278.4" stroke="#111" stroke-width="1.1" />
<line x1="41.21" y1="281.4" x2="41.21" y2="279.9" stroke="#111" stroke-width="1.1" />
<line x1="69.22" y1="281.4" x2="69.22" y2="279.9" stroke="#111" stroke-width="1.1" />
<line x1="97.24" y1="281.4" x2="97.24" y2="279.9" stroke="#111" stroke-width="1.1" />
<line x1="125.25" y1="281.4" x2="125.25" y2="279.9" stroke="#111" stroke-width="1.1" />
<line x1="153.26" y1="281.4" x2="153.26" y2="279.9" stroke="#111" stroke-width="1.1" />
<line x1="181.28" y1="281.4" x2="181.28" y2="279.9" stroke="#111" stroke-width="1.1" />
<line x1="209.29" y1="281.4" x2="209.29" y2="279.9" stroke="#111" stroke-width="1.1" />
<line x1="47.8" y1="1.2" x2="47.8" y2="282" stroke="#ff0000" stroke-width="2.0" stroke-dasharray="4.5 3.61"/>
<line x1="68" y1="1.2" x2="68" y2="282" stroke="#ff0000" stroke-width="2.0" stroke-dasharray="4.5 3.61"/>
<line x1="97.2" y1="1.2" x2="97.2" y2="282" stroke="#ff0000" stroke-width="2.0" stroke-dasharray="4.5 3.61"/>
<text x="-0.5" y="21" font-size="27" fill="#000" font-weight="bold" text-anchor="start" >a</text>
<text x="129.4" y="15.9" font-size="9.6" fill="#000" font-weight="bold" text-anchor="start" textLength="84.5" lengthAdjust="spacingAndGlyphs" >Ni-Co@Fe-Co PBA</text>
<text x="154" y="86.7" font-size="9.6" fill="#000" font-weight="bold" text-anchor="start" textLength="60" lengthAdjust="spacingAndGlyphs" >NiFe-Co PBA</text>
<text x="164.4" y="156.5" font-size="9.6" fill="#000" font-weight="bold" text-anchor="start" textLength="49" lengthAdjust="spacingAndGlyphs" >Ni-Co PBA</text>
<text x="163.5" y="227.3" font-size="9.6" fill="#000" font-weight="bold" text-anchor="start" textLength="50" lengthAdjust="spacingAndGlyphs" >Fe-Co PBA</text>
<text x="130.3" y="189.6" font-size="8" fill="#0000ff" font-weight="bold" text-anchor="start" textLength="86" lengthAdjust="spacingAndGlyphs" >JCPDS card No. 22-1184</text>
<text x="129.2" y="248.2" font-size="8" fill="#ff8000" font-weight="bold" text-anchor="start" textLength="86.3" lengthAdjust="spacingAndGlyphs" >JCPDS card No. 46-0907</text>
<text x="40.9" y="156" font-size="8.5" fill="#000" font-weight="bold" text-anchor="start" textLength="20" lengthAdjust="spacingAndGlyphs" >(200)</text>
<text x="62" y="174" font-size="8.5" fill="#000" font-weight="bold" text-anchor="start" textLength="19.3" lengthAdjust="spacingAndGlyphs" >(220)</text>
<text x="90.8" y="179.8" font-size="8.5" fill="#000" font-weight="bold" text-anchor="start" textLength="20" lengthAdjust="spacingAndGlyphs" >(400)</text>
<text x="37" y="223" font-size="8.5" fill="#000" font-weight="bold" text-anchor="start" textLength="20" lengthAdjust="spacingAndGlyphs" >(200)</text>
<text x="58.2" y="240.3" font-size="8.5" fill="#000" font-weight="bold" text-anchor="start" textLength="20" lengthAdjust="spacingAndGlyphs" >(220)</text>
<text x="88" y="242.6" font-size="8.5" fill="#000" font-weight="bold" text-anchor="start" textLength="20" lengthAdjust="spacingAndGlyphs" >(400)</text>
<text x="27.2" y="294.5" font-size="8.5" fill="#000" font-weight="bold" text-anchor="middle" >10</text>
<text x="55.21" y="294.5" font-size="8.5" fill="#000" font-weight="bold" text-anchor="middle" >20</text>
<text x="83.23" y="294.5" font-size="8.5" fill="#000" font-weight="bold" text-anchor="middle" >30</text>
<text x="111.24" y="294.5" font-size="8.5" fill="#000" font-weight="bold" text-anchor="middle" >40</text>
<text x="139.26" y="294.5" font-size="8.5" fill="#000" font-weight="bold" text-anchor="middle" >50</text>
<text x="167.27" y="294.5" font-size="8.5" fill="#000" font-weight="bold" text-anchor="middle" >60</text>
<text x="195.29" y="294.5" font-size="8.5" fill="#000" font-weight="bold" text-anchor="middle" >70</text>
<text x="223.3" y="294.5" font-size="8.5" fill="#000" font-weight="bold" text-anchor="middle" >80</text>
<text x="124.5" y="308.6" font-size="11" fill="#000" font-weight="bold" text-anchor="middle" textLength="77" lengthAdjust="spacingAndGlyphs" >2 Theta (degree)</text>
<text x="0" y="0" font-size="10.5" fill="#000" font-weight="bold" text-anchor="middle" textLength="67.3" lengthAdjust="spacingAndGlyphs" transform="translate(20.2,144.8) rotate(-90)">Intensity (a.u.)</text>
<polyline points="272.5,13.39 272.86,12.36 273.21,13.44 273.57,13.07 273.93,12.58 274.29,12.98 274.64,12.5 275,12.13 275.36,13.08 275.71,12.55 276.07,12.74 276.43,12.69 276.79,13.25 277.14,13.04 277.5,12 277.86,12.79 278.21,12.6 278.57,12.59 278.93,13.1 279.29,12.5 279.64,12.57 280,13.15 280.35,12.53 280.71,12.62 281.06,12.67 281.41,13.13 281.76,12.93 282.12,13.04 282.47,12.59 282.82,12.1 283.18,13.01 283.53,12.85 283.88,13.17 284.24,13.19 284.59,12.29 284.94,12.46 285.29,12.27 285.65,13.33 286,12.34 286.38,12.32 286.75,13.24 287.12,12.97 287.5,12.24 287.88,13.11 288.25,13.15 288.62,12.82 289,12.21 289.38,13.09 289.75,12.7 290.12,12.93 290.5,13.5 290.88,13.72 291.25,14.01 291.62,13.98 292,14.58 292.35,16.1 292.7,17.12 293.05,19.19 293.4,20.08 293.75,21.45 294.1,22.87 294.55,20.83 295,19.25 295.38,18.32 295.76,17.57 296.14,16.78 296.52,15.81 296.9,15.26 297.26,15.93 297.63,16.15 297.99,16.46 298.36,16.32 298.72,16.55 299.09,16.72 299.45,17.33 299.81,17.48 300.18,17.82 300.54,18.11 300.91,18.44 301.27,18.56 301.64,19.14 302,18.99 302.37,20 302.74,20.25 303.11,20.41 303.49,21.1 303.86,21.76 304.23,22.18 304.6,22.8 304.97,23.13 305.34,23.61 305.71,24.48 306.09,24.63 306.46,25.43 306.83,26 307.2,26.36 307.56,26.4 307.92,26.86 308.28,26.65 308.64,27.08 309,26.64 309.36,27.03 309.72,27.31 310.08,27.02 310.44,27.72 310.8,27.3 311.16,27.45 311.52,26.95 311.88,27.26 312.24,26.79 312.6,26.74 312.96,26.32 313.32,26.23 313.68,26.02 314.04,25.54 314.4,25.26 314.76,25.49 315.12,24.79 315.48,25.12 315.84,24.41 316.2,24.12 316.56,23.93 316.92,24.23 317.29,24.16 317.65,23.6 318.01,23.58 318.37,23.12 318.73,23.38 319.1,23.04 319.46,22.49 319.82,22.23 320.18,22.49 320.54,21.85 320.9,22.22 321.27,21.66 321.63,21.43 321.99,21.49 322.35,21.12 322.71,21.1 323.08,20.63 323.44,20.97 323.8,20.38 324.17,20.52 324.53,19.83 324.9,20.07 325.27,19.98 325.63,19.35 326,18.89 326.37,18.92 326.73,18.88 327.1,18.38 327.47,18.39 327.83,17.86 328.2,17.9 328.57,17.87 328.93,17.45 329.3,17.41 329.67,16.8 330.03,17.09 330.4,16.38 330.77,16.72 331.13,16.56 331.5,16.31 331.87,15.79 332.24,15.4 332.61,15.21 332.99,15.26 333.36,14.85 333.73,14.93 334.1,14.12 334.47,14.16 334.84,14.2 335.21,13.78 335.59,13.51 335.96,12.97 336.33,12.78 336.7,12.64 337.08,12.33 337.47,11.54 337.85,10.36 338.23,10.1 338.62,8.72 339,8.37 339.37,9.16 339.73,9.26 340.1,10.21 340.47,10.54 340.83,10.65 341.2,11.38 341.55,11.15 341.9,10.69 342.25,10.72 342.6,10.01 342.95,10.12 343.3,9.46 343.68,9.83 344.07,10.71 344.45,10.92 344.83,11.77 345.22,12.47 345.6,12.87 345.95,12.75 346.3,12.43 346.65,12.75 347,12.44 347.36,12.81 347.71,12.43 348.06,12.72 348.41,12.54 348.76,12.54 349.11,12.72 349.46,12.35 349.81,12.33 350.17,12.86 350.52,12.41 350.87,12.75 351.22,12.75 351.57,12.45 351.92,12.2 352.27,12.15 352.62,12.68 352.98,12.12 353.33,12.37 353.68,12.38 354.03,12.06 354.38,12.29 354.73,12.06 355.08,12.3 355.43,12.26 355.79,12.14 356.14,12 356.49,12.13 356.84,11.97 357.19,11.9 357.54,11.95 357.89,12.38 358.24,12.1 358.6,12.35 358.95,11.72 359.3,12.35 359.65,12.01 360,12.2 360.36,12.03 360.71,12.1 361.07,11.76 361.43,12.11 361.79,11.67 362.14,11.73 362.5,11.55 362.86,11.79 363.21,11.86 363.57,11.69 363.93,12.09 364.29,11.51 364.64,11.84 365,11.58 365.36,11.82 365.71,11.93 366.07,11.86 366.43,11.39 366.79,11.51 367.14,11.74 367.5,11.99 367.86,11.31 368.21,11.7 368.57,11.73 368.93,11.8 369.29,11.46 369.64,11.77 370,11.51 370.36,11.81 370.71,11.16 371.07,11.79 371.43,11.41 371.79,11.38 372.14,11.14 372.5,11.24 372.86,11.56 373.21,11.51 373.57,11.12 373.93,11.24 374.29,11.08 374.64,11.11 375,11.1 375.36,11.19 375.73,11.66 376.09,11.68 376.46,11.55 376.82,11.34 377.19,11.37 377.55,11.58 377.92,11.68 378.28,11.58 378.65,11.51 379.01,11.22 379.38,11.53 379.74,11.69 380.11,11.67 380.47,11.19 380.84,11.64 381.2,11.39 381.55,11.76 381.9,12.83 382.25,13.12 382.6,13.67 383,14.99 383.4,17.23 383.83,24.97 384.27,32.62 384.7,40.17 385.3,56.73 385.9,40.21 386.35,29.56 386.8,18.95 387.5,15.63 387.88,15.18 388.26,14.82 388.64,14 389.02,14.04 389.4,13.32 389.76,13.48 390.12,12.77 390.48,13.24 390.84,12.98 391.2,12.48 391.56,12.76 391.92,12.2 392.28,12.05 392.64,11.94 393,10.84 393.36,11.18 393.71,12.22 394.07,10.46 394.43,9.78 394.79,7.6 395.14,8.53 395.5,7.79 396,10.05 396.5,13.94 396.88,13.56 397.25,11.84 397.62,10.56 398,13.17 398.35,13.97 398.7,12.37 399.05,12.54 399.4,12.7 399.75,12.66 400.1,12.09 400.45,12.42 400.8,12.08 401.15,12.14 401.5,12.62 401.85,12.33 402.2,12.45 402.55,12.34 402.9,12.24 403.25,12.15 403.6,12.24 403.95,12.57 404.3,12.4 404.65,12.16 405,12.01 405.36,12.23 405.71,12.61 406.07,12.52 406.43,12.76 406.79,12.94 407.14,12.55 407.5,13.03 407.86,12.66 408.21,13.3 408.57,12.94 408.93,13.08 409.29,13.65 409.64,13.32 410,13.31 410.4,14.15 410.8,14.34 411.2,14.92 411.6,14.95 412,15.4 412.36,16 412.73,15.97 413.09,16.59 413.45,16.31 413.82,17.04 414.18,16.85 414.55,17.39 414.91,17.3 415.27,17.71 415.64,18.53 416,18.47 416.36,19.65 416.71,20.18 417.07,21.18 417.43,21.93 417.79,23.18 418.14,24.33 418.5,25.01 418.85,26.23 419.2,27.93 419.55,29.23 419.9,30.38 420.25,31.29 420.6,32.99 421.07,30.56 421.53,28.62 422,25.9 422.43,24.28 422.87,22.43 423.3,20.41 423.68,19.88 424.05,19.35 424.43,18.87 424.8,17.95 425.18,17.22 425.55,17.01 425.93,15.73 426.3,15.63 426.73,15.55 427.15,15.49 427.57,15.44 428,15.68 428.47,16.44 428.93,16.99 429.4,17.67 429.77,16.61 430.13,16.24 430.5,15.55 431,18.22 431.5,20.27 432,22.6 432.5,25.76 433,22.9 433.5,19.68 434,17.62 434.5,15.57 434.86,15.3 435.21,14.85 435.57,14.98 435.93,14.45 436.29,14.43 436.64,14.14 437,14.33 437.38,14.02 437.75,14.04 438.12,13.86 438.5,13.57 438.88,13.89 439.25,13.62 439.62,13.52 440,13.14 440.36,13.03 440.71,13.3 441.07,13.44 441.43,13.39 441.79,13.05 442.14,12.88 442.5,13.11 442.86,13.34 443.21,12.81 443.57,13.18 443.93,12.76 444.29,12.83 444.64,12.62 445,12.76 445.36,12.79 445.71,13.17 446.07,13.14 446.43,12.57 446.79,12.62 447.14,13.04 447.5,12.49 447.86,12.55 448.21,12.6 448.57,12.34 448.93,12.42 449.29,12.48 449.64,12.45 450,12.82 450.36,12.34 450.71,12.29 451.07,12.79 451.43,12.47 451.79,12.74 452.14,12.6 452.5,12.7 452.86,12.37 453.21,12.26 453.57,12.68 453.93,12.48 454.29,12.54 454.64,12.62 455,12.68 455.36,12.59 455.71,12.89 456.07,13.52 456.43,13.49 456.79,13.57 457.14,14.05 457.5,14.2" fill="none" stroke="#ff0000" stroke-width="1.7" stroke-linejoin="round" />
<polyline points="272.5,81.74 272.86,82.28 273.21,81.47 273.57,82.32 273.93,82.02 274.29,81.77 274.64,82.4 275,81.64 275.36,81.6 275.71,81.4 276.07,81.91 276.43,82.12 276.79,82.02 277.14,81.72 277.5,82.14 277.86,81.36 278.21,81.56 278.57,81.92 278.93,82.26 279.29,81.88 279.64,81.93 280,82 280.36,81.59 280.71,82.21 281.07,82 281.43,81.57 281.79,81.64 282.14,82.1 282.5,81.61 282.86,81.44 283.21,82.21 283.57,81.84 283.93,81.84 284.29,82.01 284.64,82.28 285,81.45 285.36,81.68 285.71,81.39 286.07,81.79 286.43,81.9 286.79,82.29 287.14,82.1 287.5,82.01 287.86,81.83 288.21,82.03 288.57,81.71 288.93,82.35 289.29,82.3 289.64,82.36 290,81.62 290.4,82.49 290.8,82.88 291.2,82.9 291.6,83.64 292,83.94 292.35,84.38 292.7,85.09 293.05,85.51 293.4,86.38 293.75,86.18 294.1,87.42 294.57,86.52 295.03,85.52 295.5,84.25 295.85,83.82 296.2,84.21 296.55,84.26 296.9,83.45 297.25,83.18 297.6,83 297.96,83.1 298.31,83.98 298.67,84.55 299.03,84.61 299.38,84.36 299.74,84.98 300.09,84.54 300.45,85.62 300.81,85.3 301.16,85.19 301.52,86.12 301.88,85.83 302.23,86.22 302.59,86.23 302.94,86.9 303.3,87.26 303.68,87.75 304.05,87.11 304.43,88.19 304.8,87.6 305.18,87.94 305.55,88.59 305.93,88.48 306.3,88.68 306.68,89.15 307.05,88.97 307.43,89.81 307.8,89.38 308.16,90.15 308.51,90.2 308.87,89.97 309.22,89.49 309.58,90.39 309.93,89.65 310.29,90.25 310.64,90.24 311,89.92 311.36,90.43 311.71,90.43 312.07,90.16 312.42,89.85 312.78,89.86 313.13,89.84 313.49,89.33 313.84,89.92 314.2,89.95 314.55,89.63 314.91,89.69 315.26,88.89 315.62,89.5 315.97,88.38 316.33,88.72 316.68,88.23 317.04,88.47 317.39,88.61 317.75,88.53 318.1,88.14 318.46,87.91 318.81,87.63 319.17,87.76 319.52,87.51 319.88,87.31 320.23,87.79 320.59,87.44 320.94,87.24 321.3,86.87 321.67,87.3 322.03,86.62 322.4,86.57 322.77,86.77 323.13,86.8 323.5,86.98 323.87,86.61 324.23,86.7 324.6,86.55 324.97,86.21 325.33,86.08 325.7,85.23 326.07,85.27 326.43,84.93 326.8,85.74 327.17,85.46 327.53,85.24 327.9,84.71 328.27,84.69 328.63,84.35 329,84.75 329.37,85.04 329.73,84.18 330.1,83.78 330.47,83.82 330.83,83.92 331.2,84.41 331.57,84.2 331.93,83.71 332.3,83.22 332.67,83.12 333.03,83.07 333.4,83.65 333.77,83.21 334.13,83.67 334.5,83.48 334.87,83.25 335.23,82.79 335.6,83.07 335.97,82.2 336.33,82.07 336.7,82.47 337.06,82.37 337.42,82.01 337.78,82.02 338.14,81.73 338.5,82.68 338.87,82.42 339.23,82.65 339.59,82.65 339.95,82.02 340.31,82.19 340.67,81.95 341.03,82.17 341.39,82.15 341.75,81.69 342.11,81.59 342.47,81.67 342.83,81.86 343.2,81.7 343.56,81.44 343.92,81.9 344.28,81.84 344.64,81.61 345,81.33 345.36,81.82 345.71,81.6 346.07,81.31 346.43,81.46 346.79,81.63 347.14,81.77 347.5,81.52 347.86,81.61 348.21,81.34 348.57,81.35 348.93,81.74 349.29,81.42 349.64,81.24 350,81.52 350.36,81.23 350.71,81.27 351.07,81.41 351.43,81.48 351.79,81.5 352.14,81.53 352.5,81.36 352.86,81.13 353.21,81.52 353.57,81.1 353.93,81.34 354.29,81.29 354.64,81.45 355,81.46 355.36,81.17 355.71,81.4 356.07,81.42 356.43,81.28 356.79,81.07 357.14,81.52 357.5,81.33 357.86,80.99 358.21,81.09 358.57,81.53 358.93,81.07 359.29,81.15 359.64,81.38 360,81.39 360.36,81.27 360.71,81.33 361.07,80.89 361.43,80.92 361.79,81.44 362.14,81.32 362.5,80.86 362.86,80.85 363.21,80.96 363.57,81.36 363.93,80.93 364.29,81.19 364.64,81.33 365,81.15 365.36,81.31 365.71,80.91 366.07,80.83 366.43,80.74 366.79,81.17 367.14,80.77 367.5,81.28 367.86,81.12 368.21,80.79 368.57,81.16 368.93,80.76 369.29,80.96 369.64,80.71 370,81.11 370.36,81.16 370.71,81.16 371.07,80.61 371.43,81.11 371.79,80.92 372.14,81.07 372.5,80.87 372.86,80.93 373.21,80.9 373.57,81.02 373.93,80.58 374.29,80.55 374.64,80.84 375,80.67 375.35,80.74 375.71,80.5 376.06,80.95 376.41,80.51 376.76,81 377.12,80.99 377.47,80.77 377.82,80.57 378.18,80.89 378.53,80.62 378.88,80.76 379.24,80.57 379.59,81.09 379.94,80.83 380.29,80.71 380.65,80.56 381,80.94 381.4,80.31 381.8,79.61 382.2,78.46 382.55,80.45 382.9,82.23 383.25,84.33 383.6,85.79 384.05,93.06 384.5,100.29 384.9,109.26 385.4,99.7 385.75,92.74 386.1,85.77 386.8,83.12 387.18,82.66 387.55,82.21 387.93,81.77 388.3,81.34 388.69,81.41 389.07,81.37 389.46,81.48 389.84,81.31 390.23,81.29 390.61,81.3 391,81.2 391.38,82.02 391.75,80.87 392.12,82.93 392.5,83.84 392.88,81.58 393.25,81.41 393.62,78.48 394,79.06 394.38,79.36 394.75,81.5 395.12,81.91 395.5,83.52 395.88,82.01 396.25,80.33 396.62,78.15 397,77.36 397.4,80.03 397.8,80.62 398.2,82.66 398.6,83.63 399.07,82.37 399.53,81.63 400,80.65 400.36,80.37 400.71,80.35 401.07,80.45 401.43,80.22 401.79,80.35 402.14,80.75 402.5,80.77 402.86,80.42 403.21,80.68 403.57,80.69 403.93,80.76 404.29,80.71 404.64,80.55 405,80.3 405.36,80.73 405.71,80.43 406.07,80.62 406.43,80.46 406.79,80.57 407.14,80.83 407.5,80.35 407.86,80.57 408.21,80.64 408.57,80.58 408.93,80.82 409.29,80.51 409.64,80.81 410,80.68 410.36,80.85 410.71,80.33 411.07,80.4 411.43,80.45 411.79,80.82 412.14,80.29 412.5,80.44 412.86,80.72 413.21,80.88 413.57,80.4 413.93,80.56 414.29,80.71 414.64,80.71 415,80.75 415.38,81.05 415.75,81.05 416.12,81.35 416.5,81.52 416.88,82.21 417.25,82.23 417.62,82.56 418,83.28 418.37,84.03 418.74,84.94 419.11,85.92 419.49,86.83 419.86,87.83 420.23,88.54 420.6,89.34 420.98,88.22 421.36,87.07 421.74,86.16 422.12,84.91 422.5,83.77 422.86,83.64 423.21,83.57 423.57,83.04 423.93,82.44 424.29,82.38 424.64,81.66 425,81.26 425.36,81.38 425.71,81.45 426.07,81.61 426.43,81.47 426.79,81.64 427.14,81.26 427.5,81.76 427.86,81.41 428.21,81.7 428.57,81.22 428.93,81.7 429.29,81.34 429.64,81.71 430,81.68 430.36,82.32 430.71,82.8 431.07,83.35 431.43,84.17 431.79,85.31 432.14,85.58 432.5,86.6 432.93,85.05 433.37,83.6 433.8,81.81 434.17,81.55 434.53,81.29 434.9,81.59 435.27,81 435.63,80.92 436,80.64 436.35,80.43 436.71,80.33 437.06,80.3 437.42,80.8 437.77,80.36 438.13,80.86 438.48,80.5 438.84,80.71 439.19,80.35 439.55,80.74 439.9,80.42 440.26,80.48 440.61,80.57 440.97,80.32 441.32,80.4 441.68,80.73 442.03,80.42 442.39,80.47 442.74,80.7 443.1,80.37 443.45,80.35 443.81,80.36 444.16,80.46 444.52,80.44 444.87,80.6 445.23,80.5 445.58,80.73 445.94,80.24 446.29,80.6 446.65,80.71 447,80.34 447.35,80.21 447.71,80.46 448.06,80.26 448.42,80.46 448.77,80.61 449.13,80.24 449.48,80.25 449.84,80.46 450.19,80.28 450.55,80.31 450.9,80.43 451.26,80.23 451.61,80.2 451.97,80.37 452.32,80.43 452.68,80.71 453.03,80.48 453.39,80.18 453.74,80.27 454.1,80.58 454.45,80.47 454.81,80.65 455.16,80.7 455.52,80.64 455.87,80.19 456.23,80.68 456.58,80.43 456.94,80.25 457.29,80.21 457.65,80.62 458,80.4" fill="none" stroke="#0b8480" stroke-width="1.7" stroke-linejoin="round" />
<rect x="336.8" y="1.2" width="9.5" height="129.60000000000002" fill="#ff1a1a" fill-opacity="0.5"/>
<rect x="380.4" y="1.2" width="9.3" height="129.60000000000002" fill="#189089" fill-opacity="0.5"/>
<rect x="416.0" y="1.2" width="9.2" height="129.60000000000002" fill="#189089" fill-opacity="0.5"/>
<rect x="272.3" y="1.2" width="185.9" height="129.6" fill="none" stroke="#2a2a2a" stroke-width="1.35"/>
<line x1="272.3" y1="65.5" x2="458.2" y2="65.5" stroke="#555" stroke-width="1.0" />
<line x1="303.22" y1="65.5" x2="303.22" y2="63.1" stroke="#333" stroke-width="0.9" />
<line x1="334.13" y1="65.5" x2="334.13" y2="63.1" stroke="#333" stroke-width="0.9" />
<line x1="365.05" y1="65.5" x2="365.05" y2="63.1" stroke="#333" stroke-width="0.9" />
<line x1="395.97" y1="65.5" x2="395.97" y2="63.1" stroke="#333" stroke-width="0.9" />
<line x1="426.88" y1="65.5" x2="426.88" y2="63.1" stroke="#333" stroke-width="0.9" />
<line x1="287.76" y1="65.5" x2="287.76" y2="64.3" stroke="#333" stroke-width="0.9" />
<line x1="318.68" y1="65.5" x2="318.68" y2="64.3" stroke="#333" stroke-width="0.9" />
<line x1="349.59" y1="65.5" x2="349.59" y2="64.3" stroke="#333" stroke-width="0.9" />
<line x1="380.51" y1="65.5" x2="380.51" y2="64.3" stroke="#333" stroke-width="0.9" />
<line x1="411.43" y1="65.5" x2="411.43" y2="64.3" stroke="#333" stroke-width="0.9" />
<line x1="442.34" y1="65.5" x2="442.34" y2="64.3" stroke="#333" stroke-width="0.9" />
<line x1="303.22" y1="130.1" x2="303.22" y2="127.3" stroke="#222" stroke-width="1.0" />
<line x1="334.13" y1="130.1" x2="334.13" y2="127.3" stroke="#222" stroke-width="1.0" />
<line x1="365.05" y1="130.1" x2="365.05" y2="127.3" stroke="#222" stroke-width="1.0" />
<line x1="395.97" y1="130.1" x2="395.97" y2="127.3" stroke="#222" stroke-width="1.0" />
<line x1="426.88" y1="130.1" x2="426.88" y2="127.3" stroke="#222" stroke-width="1.0" />
<line x1="287.76" y1="130.1" x2="287.76" y2="128.7" stroke="#222" stroke-width="1.0" />
<line x1="318.68" y1="130.1" x2="318.68" y2="128.7" stroke="#222" stroke-width="1.0" />
<line x1="349.59" y1="130.1" x2="349.59" y2="128.7" stroke="#222" stroke-width="1.0" />
<line x1="380.51" y1="130.1" x2="380.51" y2="128.7" stroke="#222" stroke-width="1.0" />
<line x1="411.43" y1="130.1" x2="411.43" y2="128.7" stroke="#222" stroke-width="1.0" />
<line x1="442.34" y1="130.1" x2="442.34" y2="128.7" stroke="#222" stroke-width="1.0" />
<text x="233.5" y="21.8" font-size="27" fill="#000" font-weight="bold" text-anchor="start" >b</text>
<text x="272.3" y="140.7" font-size="8" fill="#000" font-weight="bold" text-anchor="middle" >4000</text>
<text x="303.22" y="140.7" font-size="8" fill="#000" font-weight="bold" text-anchor="middle" >3500</text>
<text x="334.13" y="140.7" font-size="8" fill="#000" font-weight="bold" text-anchor="middle" >3000</text>
<text x="365.05" y="140.7" font-size="8" fill="#000" font-weight="bold" text-anchor="middle" >2500</text>
<text x="395.97" y="140.7" font-size="8" fill="#000" font-weight="bold" text-anchor="middle" >2000</text>
<text x="426.88" y="140.7" font-size="8" fill="#000" font-weight="bold" text-anchor="middle" >1500</text>
<text x="457.8" y="140.7" font-size="8" fill="#000" font-weight="bold" text-anchor="middle" >1000</text>
<text x="365.5" y="152.6" font-size="10.3" fill="#000" font-weight="bold" text-anchor="middle" textLength="82.6" lengthAdjust="spacingAndGlyphs" >Wavenumber (cm<tspan font-size="6" dy="-3">-1</tspan><tspan dy="3">)</tspan></text>
<text x="0" y="0" font-size="9.8" fill="#000" font-weight="bold" text-anchor="middle" textLength="77" lengthAdjust="spacingAndGlyphs" transform="translate(267.4,60) rotate(-90)">Transmittance (%)</text>
<text x="277.5" y="33.7" font-size="8.5" fill="#000" font-weight="bold" text-anchor="start" textLength="16.5" lengthAdjust="spacingAndGlyphs" >O-H</text>
<text x="302.6" y="37.7" font-size="8.5" fill="#000" font-weight="bold" text-anchor="start" textLength="17" lengthAdjust="spacingAndGlyphs" >O-H</text>
<text x="328.5" y="28" font-size="8.5" fill="#000" font-weight="bold" text-anchor="start" textLength="27" lengthAdjust="spacingAndGlyphs" >H-O-H</text>
<text x="279.8" y="58.8" font-size="9.8" fill="#000" font-weight="bold" text-anchor="start" textLength="85.2" lengthAdjust="spacingAndGlyphs" >Ni-Co@Fe-Co PBA</text>
<text x="388.1" y="60.2" font-size="8.7" fill="#000" font-weight="bold" text-anchor="start" textLength="17.9" lengthAdjust="spacingAndGlyphs" >C≡N</text>
<text x="407.6" y="46" font-size="8.5" fill="#000" font-weight="bold" text-anchor="start" textLength="27" lengthAdjust="spacingAndGlyphs" >H-O-H</text>
<text x="434" y="33.7" font-size="8.5" fill="#000" font-weight="bold" text-anchor="start" textLength="17" lengthAdjust="spacingAndGlyphs" >O-H</text>
<text x="280.8" y="124.5" font-size="9.8" fill="#000" font-weight="bold" text-anchor="start" textLength="57.7" lengthAdjust="spacingAndGlyphs" >NiFe-Co PBA</text>
<polygon points="502.5,65.5 503.4,1.5 503.7,27.75 504,43.02 504.3,53.07 504.6,58.13 504.9,59.65 505.2,59.69 505.5,58.2 505.8,55.69 506.1,52.02 506.4,48.61 506.7,47.35 507,48.66 507.3,51.96 507.6,55.85 507.9,58.35 508.2,59.68 508.5,60.21 508.8,60.59 509.1,60.59 509.4,60.46 509.7,60.59 510,60.67 510.3,60.61 510.6,60.52 510.9,60.6 511.2,60.63 511.5,60.65 511.8,60.49 512.1,60.69 512.4,60.73 512.7,60.67 513,60.7 513.3,60.54 513.6,60.67 513.9,60.39 514.2,60.28 514.5,60.19 514.8,59.97 515.1,59.25 515.4,58.68 515.7,57.88 516,57.2 516.3,56.36 516.6,55.81 516.9,55.69 517.2,55.7 517.5,56.2 517.8,56.68 518.1,57.54 518.4,58.13 518.7,59.12 519,59.47 519.3,59.96 519.6,60.25 519.9,60.55 520.2,60.51 520.5,60.71 520.8,60.62 521.1,60.51 521.4,60.7 521.7,60.51 522,60.75 522.3,60.59 522.6,60.52 522.9,60.74 523.2,60.55 523.5,60.57 523.8,60.55 524.1,60.65 524.4,60.46 524.7,60.56 525,60.5 525.3,60.7 525.6,60.45 525.9,60.63 526.2,60.53 526.5,60.59 526.8,60.62 527.1,60.66 527.4,60.49 527.7,60.52 528,60.49 528.3,60.74 528.6,60.49 528.9,60.49 529.2,60.61 529.5,60.62 529.8,60.72 530.1,60.47 530.4,60.52 530.7,60.5 531,60.63 531.3,60.59 531.6,60.57 531.9,60.72 532.2,60.65 532.5,60.71 532.8,60.74 533.1,60.53 533.4,60.73 533.7,60.57 534,60.47 534.3,60.72 534.6,60.48 534.9,60.46 535.2,60.54 535.5,60.54 535.8,60.74 536.1,60.71 536.4,60.58 536.7,60.61 537,60.7 537.3,60.69 537.6,60.65 537.9,60.6 538.2,60.48 538.5,60.52 538.8,60.65 539.1,60.63 539.4,60.69 539.7,60.72 540,60.74 540.3,60.51 540.6,60.47 540.9,60.72 541.2,60.62 541.5,60.5 541.8,60.66 542.1,60.53 542.4,60.52 542.7,60.56 543,60.61 543.3,60.65 543.6,60.47 543.9,60.67 544.2,60.64 544.5,60.59 544.8,60.65 545.1,60.69 545.4,60.45 545.7,60.59 546,60.65 546.3,60.66 546.6,60.64 546.9,60.5 547.2,60.74 547.5,60.69 547.8,60.52 548.1,60.58 548.4,60.74 548.7,60.51 549,60.57 549.3,60.74 549.6,60.72 549.9,60.52 550.2,60.67 550.5,60.56 550.8,60.65 551.1,60.68 551.4,60.49 551.7,60.52 552,60.51 552.3,60.53 552.6,60.46 552.9,60.49 553.2,60.57 553.5,60.58 553.8,60.47 554.1,60.62 554.4,60.73 554.7,60.62 555,60.56 555.3,60.66 555.6,60.58 555.9,60.5 556.2,60.59 556.5,60.46 556.8,60.65 557.1,60.5 557.4,60.56 557.7,60.74 558,60.68 558.3,60.7 558.6,60.64 558.9,60.64 559.2,60.66 559.5,60.74 559.8,60.51 560.1,60.68 560.4,60.54 560.7,60.53 561,60.7 561.3,60.63 561.6,60.7 561.9,60.71 562.2,60.63 562.5,60.51 562.8,60.45 563.1,60.61 563.4,60.67 563.7,60.53 564,60.47 564.3,60.45 564.6,60.5 564.9,60.66 565.2,60.45 565.5,60.52 565.8,60.53 566.1,60.66 566.4,60.75 566.7,60.46 567,60.48 567.3,60.73 567.6,60.74 567.9,60.49 568.2,60.55 568.5,60.61 568.8,60.55 569.1,60.58 569.4,60.59 569.7,60.53 570,60.47 570.3,60.48 570.6,60.5 570.9,60.48 571.2,60.64 571.5,60.66 571.8,60.53 572.1,60.69 572.4,60.67 572.7,60.55 573,60.6 573.3,60.51 573.6,60.73 573.9,60.62 574.2,60.47 574.5,60.5 574.8,60.66 575.1,60.57 575.4,60.67 575.7,60.52 576,60.69 576.3,60.69 576.6,60.48 576.9,60.63 577.2,60.51 577.5,60.66 577.8,60.69 578.1,60.69 578.4,60.52 578.7,60.48 579,60.65 579.3,60.62 579.6,60.49 579.9,60.51 580.2,60.62 580.5,60.48 580.8,60.64 581.1,60.52 581.4,60.53 581.7,60.58 582,60.61 582.3,60.67 582.6,60.46 582.9,60.67 583.2,60.52 583.5,60.54 583.8,60.64 584.1,60.66 584.4,60.63 584.7,60.72 585,60.51 585.3,60.54 585.6,60.65 585.9,60.53 586.2,60.5 586.5,60.52 586.8,60.68 587.1,60.7 587.4,60.66 587.7,60.74 588,60.69 588.3,60.54 588.6,60.54 588.9,60.67 589.2,60.47 589.5,60.63 589.8,60.48 590.1,60.46 590.4,60.6 590.7,60.5 591,60.73 591.3,60.71 591.6,60.59 591.9,60.51 592.2,60.49 592.5,60.6 592.8,60.61 593.1,60.56 593.4,60.66 593.7,60.61 594,60.68 594.3,60.48 594.6,60.47 594.9,60.57 595.2,60.6 595.5,60.53 595.8,60.65 596.1,60.52 596.4,60.55 596.7,60.59 597,60.66 597.3,60.68 597.6,60.56 597.9,60.58 598.2,60.73 598.5,60.73 598.8,60.64 599.1,60.48 599.4,60.59 599.7,60.64 600,60.53 600.3,60.46 600.6,60.74 600.9,60.72 601.2,60.49 601.5,60.59 601.8,60.64 602.1,60.54 602.4,60.47 602.7,60.68 603,60.68 603.3,60.58 603.6,60.48 603.9,60.57 604.2,60.48 604.5,60.74 604.8,60.47 605.1,60.54 605.4,60.68 605.7,60.49 606,60.48 606.3,60.47 606.6,60.5 606.9,60.61 607.2,60.7 607.5,60.5 607.8,60.5 608.1,60.68 608.4,60.58 608.7,60.55 609,60.49 609.3,60.52 609.6,60.74 609.9,60.49 610.2,60.53 610.5,60.67 610.8,60.72 611.1,60.72 611.4,60.59 611.7,60.74 612,60.63 612.3,60.54 612.6,60.59 612.9,60.66 613.2,60.67 613.5,60.49 613.8,60.51 614.1,60.74 614.4,60.48 614.7,60.69 615,60.55 615.3,60.52 615.6,60.53 615.9,60.59 616.2,60.75 616.5,60.49 616.8,60.71 617.1,60.55 617.4,60.5 617.7,60.67 618,60.55 618.3,60.51 618.6,60.58 618.9,60.7 619.2,60.71 619.5,60.62 619.8,60.45 620.1,60.68 620.4,60.63 620.7,60.72 621,60.74 621.3,60.55 621.6,60.7 621.9,60.7 622.2,60.53 622.5,60.56 622.8,60.56 623.1,60.56 623.4,60.56 623.7,60.48 624,60.52 624.3,60.72 624.6,60.57 624.9,60.64 625.2,60.72 625.5,60.68 625.8,60.52 626.1,60.73 626.4,60.69 626.7,60.74 627,60.66 627.3,60.64 627.6,60.61 627.9,60.33 628.2,60.26 628.5,59.88 628.8,59.59 629.1,58.88 629.4,58.51 629.7,58.09 630,58.1 630.3,58.09 630.6,58.6 630.9,59.09 631.2,59.6 631.5,59.81 631.8,60.35 632.1,60.48 632.4,60.57 632.7,60.61 633,60.45 633.3,60.71 633.6,60.61 633.9,60.59 634.2,60.55 634.5,60.68 634.8,60.68 635.1,60.71 635.4,60.51 635.7,60.55 636,60.52 636.3,60.48 636.6,60.54 636.9,60.43 637.2,60.62 637.5,60.36 637.8,60.12 638.1,59.8 638.4,59.51 638.7,58.7 639,58.06 639.3,57.38 639.6,57.08 639.9,57.06 640.2,57.18 640.5,57.87 640.8,58.67 641.1,59.23 641.4,59.91 641.7,60.23 642,60.33 642.3,60.62 642.6,60.59 642.9,60.47 643.2,60.62 643.5,60.7 643.8,60.61 644.1,60.6 644.4,60.57 644.7,60.71 645,60.65 645.3,60.51 645.6,60.56 645.9,60.56 646.2,60.74 646.5,60.66 646.8,60.49 647.1,60.72 647.4,60.44 647.7,60.57 648,60.44 648.3,60.33 648.6,59.87 648.9,59.1 649.2,58.22 649.5,56.98 649.8,55.48 650.1,54 650.4,53.09 650.7,53.12 651,53.78 651.3,54.83 651.6,56.51 651.9,57.95 652.2,58.91 652.5,59.67 652.8,60.23 653.1,60.54 653.4,60.44 653.7,60.51 654,60.54 654.3,60.67 654.6,60.51 654.9,60.61 655.2,60.6 655.5,60.65 655.8,60.49 656.1,60.74 656.4,60.75 656.7,60.62 657,60.69 657.3,60.51 657.6,60.72 657.9,60.62 658.2,60.68 658.5,60.71 658.8,60.56 659.1,60.73 659.4,60.51 659.7,60.46 660,60.6 660.3,60.72 660.6,60.72 660.9,60.74 661.2,60.6 661.5,60.73 661.8,60.62 662.1,60.49 662.4,60.64 662.7,60.69 663,60.58 663.3,60.63 663.6,60.52 663.9,60.51 664.2,60.53 664.5,60.51 664.8,60.42 665.1,60.18 665.4,59.97 665.7,59.84 666,59.7 666.3,59.47 666.6,59.12 666.9,59.03 667.2,59.13 667.5,59.16 667.8,59.5 668.1,59.85 668.4,59.88 668.7,60.21 669,60.41 669.3,60.53 669.6,60.59 669.9,60.63 670.2,60.52 670.5,60.7 670.8,60.73 671.1,60.46 671.4,60.73 671.7,60.58 672,60.48 672.3,60.47 672.6,60.69 672.9,60.65 673.2,60.49 673.5,60.59 673.8,60.64 674.1,60.75 674.4,60.55 674.7,60.68 675,60.52 675.3,60.51 675.6,60.5 675.9,60.57 676.2,60.64 676.5,60.54 676.8,60.5 677.1,60.52 677.4,60.48 677.7,60.51 678,60.54 678.3,60.6 678.6,60.51 678.9,60.59 679.2,60.58 679.5,60.74 679.8,60.6 680.1,60.73 680.4,60.59 680.7,60.51 681,60.63 681.3,60.49 681.6,60.5 681.9,60.47 682.2,60.66 682.5,60.74 682.8,60.57 683.1,60.56 683.4,60.58 683.7,60.56 684,60.66 684.3,60.57 684.6,60.5 684.9,60.71 685.2,60.62 685.5,60.45 685.8,60.7 686.1,60.67 686.4,60.56 686.7,60.64 687,60.73 687.3,60.57 687.8,65.5" fill="#f9cccc" stroke="none" stroke-width="0" stroke-linejoin="round" />
<polyline points="503.4,1.5 503.7,27.75 504,43.02 504.3,53.07 504.6,58.13 504.9,59.65 505.2,59.69 505.5,58.2 505.8,55.69 506.1,52.02 506.4,48.61 506.7,47.35 507,48.66 507.3,51.96 507.6,55.85 507.9,58.35 508.2,59.68 508.5,60.21 508.8,60.59 509.1,60.59 509.4,60.46 509.7,60.59 510,60.67 510.3,60.61 510.6,60.52 510.9,60.6 511.2,60.63 511.5,60.65 511.8,60.49 512.1,60.69 512.4,60.73 512.7,60.67 513,60.7 513.3,60.54 513.6,60.67 513.9,60.39 514.2,60.28 514.5,60.19 514.8,59.97 515.1,59.25 515.4,58.68 515.7,57.88 516,57.2 516.3,56.36 516.6,55.81 516.9,55.69 517.2,55.7 517.5,56.2 517.8,56.68 518.1,57.54 518.4,58.13 518.7,59.12 519,59.47 519.3,59.96 519.6,60.25 519.9,60.55 520.2,60.51 520.5,60.71 520.8,60.62 521.1,60.51 521.4,60.7 521.7,60.51 522,60.75 522.3,60.59 522.6,60.52 522.9,60.74 523.2,60.55 523.5,60.57 523.8,60.55 524.1,60.65 524.4,60.46 524.7,60.56 525,60.5 525.3,60.7 525.6,60.45 525.9,60.63 526.2,60.53 526.5,60.59 526.8,60.62 527.1,60.66 527.4,60.49 527.7,60.52 528,60.49 528.3,60.74 528.6,60.49 528.9,60.49 529.2,60.61 529.5,60.62 529.8,60.72 530.1,60.47 530.4,60.52 530.7,60.5 531,60.63 531.3,60.59 531.6,60.57 531.9,60.72 532.2,60.65 532.5,60.71 532.8,60.74 533.1,60.53 533.4,60.73 533.7,60.57 534,60.47 534.3,60.72 534.6,60.48 534.9,60.46 535.2,60.54 535.5,60.54 535.8,60.74 536.1,60.71 536.4,60.58 536.7,60.61 537,60.7 537.3,60.69 537.6,60.65 537.9,60.6 538.2,60.48 538.5,60.52 538.8,60.65 539.1,60.63 539.4,60.69 539.7,60.72 540,60.74 540.3,60.51 540.6,60.47 540.9,60.72 541.2,60.62 541.5,60.5 541.8,60.66 542.1,60.53 542.4,60.52 542.7,60.56 543,60.61 543.3,60.65 543.6,60.47 543.9,60.67 544.2,60.64 544.5,60.59 544.8,60.65 545.1,60.69 545.4,60.45 545.7,60.59 546,60.65 546.3,60.66 546.6,60.64 546.9,60.5 547.2,60.74 547.5,60.69 547.8,60.52 548.1,60.58 548.4,60.74 548.7,60.51 549,60.57 549.3,60.74 549.6,60.72 549.9,60.52 550.2,60.67 550.5,60.56 550.8,60.65 551.1,60.68 551.4,60.49 551.7,60.52 552,60.51 552.3,60.53 552.6,60.46 552.9,60.49 553.2,60.57 553.5,60.58 553.8,60.47 554.1,60.62 554.4,60.73 554.7,60.62 555,60.56 555.3,60.66 555.6,60.58 555.9,60.5 556.2,60.59 556.5,60.46 556.8,60.65 557.1,60.5 557.4,60.56 557.7,60.74 558,60.68 558.3,60.7 558.6,60.64 558.9,60.64 559.2,60.66 559.5,60.74 559.8,60.51 560.1,60.68 560.4,60.54 560.7,60.53 561,60.7 561.3,60.63 561.6,60.7 561.9,60.71 562.2,60.63 562.5,60.51 562.8,60.45 563.1,60.61 563.4,60.67 563.7,60.53 564,60.47 564.3,60.45 564.6,60.5 564.9,60.66 565.2,60.45 565.5,60.52 565.8,60.53 566.1,60.66 566.4,60.75 566.7,60.46 567,60.48 567.3,60.73 567.6,60.74 567.9,60.49 568.2,60.55 568.5,60.61 568.8,60.55 569.1,60.58 569.4,60.59 569.7,60.53 570,60.47 570.3,60.48 570.6,60.5 570.9,60.48 571.2,60.64 571.5,60.66 571.8,60.53 572.1,60.69 572.4,60.67 572.7,60.55 573,60.6 573.3,60.51 573.6,60.73 573.9,60.62 574.2,60.47 574.5,60.5 574.8,60.66 575.1,60.57 575.4,60.67 575.7,60.52 576,60.69 576.3,60.69 576.6,60.48 576.9,60.63 577.2,60.51 577.5,60.66 577.8,60.69 578.1,60.69 578.4,60.52 578.7,60.48 579,60.65 579.3,60.62 579.6,60.49 579.9,60.51 580.2,60.62 580.5,60.48 580.8,60.64 581.1,60.52 581.4,60.53 581.7,60.58 582,60.61 582.3,60.67 582.6,60.46 582.9,60.67 583.2,60.52 583.5,60.54 583.8,60.64 584.1,60.66 584.4,60.63 584.7,60.72 585,60.51 585.3,60.54 585.6,60.65 585.9,60.53 586.2,60.5 586.5,60.52 586.8,60.68 587.1,60.7 587.4,60.66 587.7,60.74 588,60.69 588.3,60.54 588.6,60.54 588.9,60.67 589.2,60.47 589.5,60.63 589.8,60.48 590.1,60.46 590.4,60.6 590.7,60.5 591,60.73 591.3,60.71 591.6,60.59 591.9,60.51 592.2,60.49 592.5,60.6 592.8,60.61 593.1,60.56 593.4,60.66 593.7,60.61 594,60.68 594.3,60.48 594.6,60.47 594.9,60.57 595.2,60.6 595.5,60.53 595.8,60.65 596.1,60.52 596.4,60.55 596.7,60.59 597,60.66 597.3,60.68 597.6,60.56 597.9,60.58 598.2,60.73 598.5,60.73 598.8,60.64 599.1,60.48 599.4,60.59 599.7,60.64 600,60.53 600.3,60.46 600.6,60.74 600.9,60.72 601.2,60.49 601.5,60.59 601.8,60.64 602.1,60.54 602.4,60.47 602.7,60.68 603,60.68 603.3,60.58 603.6,60.48 603.9,60.57 604.2,60.48 604.5,60.74 604.8,60.47 605.1,60.54 605.4,60.68 605.7,60.49 606,60.48 606.3,60.47 606.6,60.5 606.9,60.61 607.2,60.7 607.5,60.5 607.8,60.5 608.1,60.68 608.4,60.58 608.7,60.55 609,60.49 609.3,60.52 609.6,60.74 609.9,60.49 610.2,60.53 610.5,60.67 610.8,60.72 611.1,60.72 611.4,60.59 611.7,60.74 612,60.63 612.3,60.54 612.6,60.59 612.9,60.66 613.2,60.67 613.5,60.49 613.8,60.51 614.1,60.74 614.4,60.48 614.7,60.69 615,60.55 615.3,60.52 615.6,60.53 615.9,60.59 616.2,60.75 616.5,60.49 616.8,60.71 617.1,60.55 617.4,60.5 617.7,60.67 618,60.55 618.3,60.51 618.6,60.58 618.9,60.7 619.2,60.71 619.5,60.62 619.8,60.45 620.1,60.68 620.4,60.63 620.7,60.72 621,60.74 621.3,60.55 621.6,60.7 621.9,60.7 622.2,60.53 622.5,60.56 622.8,60.56 623.1,60.56 623.4,60.56 623.7,60.48 624,60.52 624.3,60.72 624.6,60.57 624.9,60.64 625.2,60.72 625.5,60.68 625.8,60.52 626.1,60.73 626.4,60.69 626.7,60.74 627,60.66 627.3,60.64 627.6,60.61 627.9,60.33 628.2,60.26 628.5,59.88 628.8,59.59 629.1,58.88 629.4,58.51 629.7,58.09 630,58.1 630.3,58.09 630.6,58.6 630.9,59.09 631.2,59.6 631.5,59.81 631.8,60.35 632.1,60.48 632.4,60.57 632.7,60.61 633,60.45 633.3,60.71 633.6,60.61 633.9,60.59 634.2,60.55 634.5,60.68 634.8,60.68 635.1,60.71 635.4,60.51 635.7,60.55 636,60.52 636.3,60.48 636.6,60.54 636.9,60.43 637.2,60.62 637.5,60.36 637.8,60.12 638.1,59.8 638.4,59.51 638.7,58.7 639,58.06 639.3,57.38 639.6,57.08 639.9,57.06 640.2,57.18 640.5,57.87 640.8,58.67 641.1,59.23 641.4,59.91 641.7,60.23 642,60.33 642.3,60.62 642.6,60.59 642.9,60.47 643.2,60.62 643.5,60.7 643.8,60.61 644.1,60.6 644.4,60.57 644.7,60.71 645,60.65 645.3,60.51 645.6,60.56 645.9,60.56 646.2,60.74 646.5,60.66 646.8,60.49 647.1,60.72 647.4,60.44 647.7,60.57 648,60.44 648.3,60.33 648.6,59.87 648.9,59.1 649.2,58.22 649.5,56.98 649.8,55.48 650.1,54 650.4,53.09 650.7,53.12 651,53.78 651.3,54.83 651.6,56.51 651.9,57.95 652.2,58.91 652.5,59.67 652.8,60.23 653.1,60.54 653.4,60.44 653.7,60.51 654,60.54 654.3,60.67 654.6,60.51 654.9,60.61 655.2,60.6 655.5,60.65 655.8,60.49 656.1,60.74 656.4,60.75 656.7,60.62 657,60.69 657.3,60.51 657.6,60.72 657.9,60.62 658.2,60.68 658.5,60.71 658.8,60.56 659.1,60.73 659.4,60.51 659.7,60.46 660,60.6 660.3,60.72 660.6,60.72 660.9,60.74 661.2,60.6 661.5,60.73 661.8,60.62 662.1,60.49 662.4,60.64 662.7,60.69 663,60.58 663.3,60.63 663.6,60.52 663.9,60.51 664.2,60.53 664.5,60.51 664.8,60.42 665.1,60.18 665.4,59.97 665.7,59.84 666,59.7 666.3,59.47 666.6,59.12 666.9,59.03 667.2,59.13 667.5,59.16 667.8,59.5 668.1,59.85 668.4,59.88 668.7,60.21 669,60.41 669.3,60.53 669.6,60.59 669.9,60.63 670.2,60.52 670.5,60.7 670.8,60.73 671.1,60.46 671.4,60.73 671.7,60.58 672,60.48 672.3,60.47 672.6,60.69 672.9,60.65 673.2,60.49 673.5,60.59 673.8,60.64 674.1,60.75 674.4,60.55 674.7,60.68 675,60.52 675.3,60.51 675.6,60.5 675.9,60.57 676.2,60.64 676.5,60.54 676.8,60.5 677.1,60.52 677.4,60.48 677.7,60.51 678,60.54 678.3,60.6 678.6,60.51 678.9,60.59 679.2,60.58 679.5,60.74 679.8,60.6 680.1,60.73 680.4,60.59 680.7,60.51 681,60.63 681.3,60.49 681.6,60.5 681.9,60.47 682.2,60.66 682.5,60.74 682.8,60.57 683.1,60.56 683.4,60.58 683.7,60.56 684,60.66 684.3,60.57 684.6,60.5 684.9,60.71 685.2,60.62 685.5,60.45 685.8,60.7 686.1,60.67 686.4,60.56 686.7,60.64 687,60.73 687.3,60.57" fill="none" stroke="#ff0000" stroke-width="1.4" stroke-linejoin="round" />
<polygon points="502.5,130.1 503.4,66.5 503.7,90.01 504,105.28 504.3,115.32 504.6,120.04 504.9,121.04 505.2,119.11 505.5,113.73 505.8,106.31 506.1,100.08 506.4,98.96 506.7,103.9 507,111.55 507.3,117.66 507.6,121.2 507.9,122.37 508.2,122.68 508.5,122.69 508.8,122.68 509.1,122.92 509.4,122.89 509.7,122.66 510,122.75 510.3,122.79 510.6,122.8 510.9,122.76 511.2,122.92 511.5,122.75 511.8,122.81 512.1,122.93 512.4,122.84 512.7,122.79 513,122.74 513.3,122.73 513.6,122.76 513.9,122.73 514.2,122.43 514.5,122.21 514.8,121.84 515.1,121.29 515.4,120.76 515.7,119.85 516,118.94 516.3,118.23 516.6,117.88 516.9,117.5 517.2,117.84 517.5,118.14 517.8,118.92 518.1,119.7 518.4,120.73 518.7,121.23 519,121.79 519.3,122.12 519.6,122.43 519.9,122.72 520.2,122.79 520.5,122.89 520.8,122.92 521.1,122.81 521.4,122.92 521.7,122.68 522,122.93 522.3,122.78 522.6,122.71 522.9,122.87 523.2,122.91 523.5,122.77 523.8,122.68 524.1,122.91 524.4,122.88 524.7,122.83 525,122.94 525.3,122.66 525.6,122.67 525.9,122.69 526.2,122.66 526.5,122.86 526.8,122.84 527.1,122.68 527.4,122.7 527.7,122.7 528,122.83 528.3,122.85 528.6,122.94 528.9,122.76 529.2,122.94 529.5,122.78 529.8,122.77 530.1,122.73 530.4,122.72 530.7,122.94 531,122.95 531.3,122.86 531.6,122.7 531.9,122.7 532.2,122.7 532.5,122.76 532.8,122.87 533.1,122.67 533.4,122.81 533.7,122.85 534,122.66 534.3,122.78 534.6,122.89 534.9,122.82 535.2,122.79 535.5,122.91 535.8,122.83 536.1,122.75 536.4,122.77 536.7,122.93 537,122.91 537.3,122.92 537.6,122.82 537.9,122.69 538.2,122.7 538.5,122.76 538.8,122.86 539.1,122.65 539.4,122.89 539.7,122.89 540,122.8 540.3,122.65 540.6,122.89 540.9,122.77 541.2,122.85 541.5,122.82 541.8,122.87 542.1,122.77 542.4,122.94 542.7,122.94 543,122.93 543.3,122.83 543.6,122.74 543.9,122.76 544.2,122.73 544.5,122.92 544.8,122.89 545.1,122.89 545.4,122.9 545.7,122.95 546,122.86 546.3,122.75 546.6,122.88 546.9,122.73 547.2,122.83 547.5,122.7 547.8,122.91 548.1,122.8 548.4,122.73 548.7,122.93 549,122.67 549.3,122.93 549.6,122.88 549.9,122.69 550.2,122.88 550.5,122.82 550.8,122.92 551.1,122.83 551.4,122.78 551.7,122.93 552,122.68 552.3,122.88 552.6,122.68 552.9,122.73 553.2,122.68 553.5,122.91 553.8,122.78 554.1,122.87 554.4,122.73 554.7,122.87 555,122.84 555.3,122.68 555.6,122.8 555.9,122.87 556.2,122.71 556.5,122.85 556.8,122.73 557.1,122.76 557.4,122.93 557.7,122.93 558,122.95 558.3,122.78 558.6,122.82 558.9,122.89 559.2,122.88 559.5,122.79 559.8,122.91 560.1,122.77 560.4,122.94 560.7,122.79 561,122.69 561.3,122.87 561.6,122.69 561.9,122.85 562.2,122.67 562.5,122.95 562.8,122.81 563.1,122.87 563.4,122.69 563.7,122.84 564,122.76 564.3,122.72 564.6,122.89 564.9,122.66 565.2,122.79 565.5,122.68 565.8,122.91 566.1,122.92 566.4,122.66 566.7,122.79 567,122.79 567.3,122.87 567.6,122.87 567.9,122.75 568.2,122.93 568.5,122.71 568.8,122.69 569.1,122.89 569.4,122.69 569.7,122.71 570,122.8 570.3,122.75 570.6,122.7 570.9,122.93 571.2,122.79 571.5,122.89 571.8,122.73 572.1,122.92 572.4,122.72 572.7,122.92 573,122.83 573.3,122.94 573.6,122.88 573.9,122.84 574.2,122.81 574.5,122.91 574.8,122.78 575.1,122.68 575.4,122.92 575.7,122.89 576,122.85 576.3,122.87 576.6,122.72 576.9,122.79 577.2,122.9 577.5,122.94 577.8,122.93 578.1,122.7 578.4,122.86 578.7,122.82 579,122.77 579.3,122.7 579.6,122.69 579.9,122.79 580.2,122.8 580.5,122.73 580.8,122.76 581.1,122.82 581.4,122.88 581.7,122.83 582,122.7 582.3,122.92 582.6,122.76 582.9,122.94 583.2,122.94 583.5,122.69 583.8,122.82 584.1,122.94 584.4,122.77 584.7,122.81 585,122.74 585.3,122.66 585.6,122.71 585.9,122.69 586.2,122.74 586.5,122.84 586.8,122.82 587.1,122.93 587.4,122.86 587.7,122.76 588,122.93 588.3,122.84 588.6,122.81 588.9,122.91 589.2,122.85 589.5,122.76 589.8,122.83 590.1,122.74 590.4,122.94 590.7,122.72 591,122.94 591.3,122.67 591.6,122.65 591.9,122.82 592.2,122.71 592.5,122.8 592.8,122.69 593.1,122.9 593.4,122.85 593.7,122.86 594,122.93 594.3,122.95 594.6,122.85 594.9,122.86 595.2,122.65 595.5,122.66 595.8,122.78 596.1,122.94 596.4,122.74 596.7,122.82 597,122.65 597.3,122.77 597.6,122.92 597.9,122.83 598.2,122.89 598.5,122.64 598.8,122.69 599.1,122.66 599.4,122.81 599.7,122.51 600,122.65 600.3,122.29 600.6,122.28 600.9,121.97 601.2,121.72 601.5,121.79 601.8,121.57 602.1,121.71 602.4,121.65 602.7,122.06 603,122.31 603.3,122.24 603.6,122.59 603.9,122.56 604.2,122.6 604.5,122.71 604.8,122.83 605.1,122.93 605.4,122.94 605.7,122.95 606,122.84 606.3,122.85 606.6,122.7 606.9,122.87 607.2,122.82 607.5,122.76 607.8,122.92 608.1,122.73 608.4,122.69 608.7,122.7 609,122.69 609.3,122.83 609.6,122.89 609.9,122.7 610.2,122.8 610.5,122.82 610.8,122.82 611.1,122.77 611.4,122.81 611.7,122.65 612,122.67 612.3,122.78 612.6,122.72 612.9,122.88 613.2,122.72 613.5,122.9 613.8,122.72 614.1,122.68 614.4,122.79 614.7,122.77 615,122.75 615.3,122.88 615.6,122.72 615.9,122.85 616.2,122.9 616.5,122.79 616.8,122.8 617.1,122.93 617.4,122.83 617.7,122.7 618,122.67 618.3,122.67 618.6,122.75 618.9,122.68 619.2,122.84 619.5,122.78 619.8,122.74 620.1,122.8 620.4,122.93 620.7,122.72 621,122.7 621.3,122.74 621.6,122.75 621.9,122.92 622.2,122.86 622.5,122.78 622.8,122.7 623.1,122.66 623.4,122.69 623.7,122.9 624,122.84 624.3,122.7 624.6,122.84 624.9,122.67 625.2,122.8 625.5,122.75 625.8,122.68 626.1,122.87 626.4,122.86 626.7,122.78 627,122.65 627.3,122.73 627.6,122.53 627.9,122.36 628.2,121.83 628.5,121.6 628.8,120.8 629.1,120.39 629.4,120.13 629.7,120.03 630,120.22 630.3,120.84 630.6,121.45 630.9,121.76 631.2,122.14 631.5,122.53 631.8,122.56 632.1,122.7 632.4,122.83 632.7,122.77 633,122.69 633.3,122.67 633.6,122.81 633.9,122.95 634.2,122.93 634.5,122.68 634.8,122.8 635.1,122.8 635.4,122.71 635.7,122.85 636,122.8 636.3,122.89 636.6,122.73 636.9,122.91 637.2,122.84 637.5,122.67 637.8,122.41 638.1,122.24 638.4,121.68 638.7,121.23 639,120.51 639.3,119.75 639.6,119.34 639.9,118.86 640.2,119.26 640.5,119.82 640.8,120.33 641.1,121.13 641.4,121.66 641.7,122.27 642,122.59 642.3,122.63 642.6,122.81 642.9,122.74 643.2,122.86 643.5,122.73 643.8,122.94 644.1,122.78 644.4,122.65 644.7,122.68 645,122.87 645.3,122.91 645.6,122.84 645.9,122.7 646.2,122.91 646.5,122.87 646.8,122.68 647.1,122.76 647.4,122.85 647.7,122.64 648,122.63 648.3,122.67 648.6,122.69 648.9,122.45 649.2,121.75 649.5,121.13 649.8,119.99 650.1,118.7 650.4,117.33 650.7,116.49 651,116.04 651.3,116.49 651.6,117.32 651.9,118.5 652.2,119.91 652.5,121 652.8,121.75 653.1,122.26 653.4,122.58 653.7,122.74 654,122.68 654.3,122.72 654.6,122.8 654.9,122.8 655.2,122.78 655.5,122.85 655.8,122.71 656.1,122.81 656.4,122.73 656.7,122.88 657,122.86 657.3,122.88 657.6,122.81 657.9,122.72 658.2,122.93 658.5,122.8 658.8,122.76 659.1,122.74 659.4,122.77 659.7,122.86 660,122.9 660.3,122.79 660.6,122.87 660.9,122.71 661.2,122.79 661.5,122.76 661.8,122.74 662.1,122.76 662.4,122.88 662.7,122.87 663,122.71 663.3,122.7 663.6,122.85 663.9,122.77 664.2,122.71 664.5,122.6 664.8,122.47 665.1,122.17 665.4,121.9 665.7,121.79 666,121.54 666.3,121.74 666.6,121.63 666.9,121.78 667.2,122.04 667.5,122.19 667.8,122.22 668.1,122.42 668.4,122.48 668.7,122.77 669,122.81 669.3,122.77 669.6,122.75 669.9,122.73 670.2,122.79 670.5,122.86 670.8,122.92 671.1,122.9 671.4,122.91 671.7,122.78 672,122.78 672.3,122.74 672.6,122.94 672.9,122.71 673.2,122.7 673.5,122.73 673.8,122.93 674.1,122.91 674.4,122.75 674.7,122.91 675,122.92 675.3,122.78 675.6,122.71 675.9,122.88 676.2,122.76 676.5,122.69 676.8,122.92 677.1,122.78 677.4,122.77 677.7,122.83 678,122.73 678.3,122.66 678.6,122.77 678.9,122.76 679.2,122.65 679.5,122.76 679.8,122.88 680.1,122.75 680.4,122.85 680.7,122.84 681,122.71 681.3,122.66 681.6,122.85 681.9,122.83 682.2,122.74 682.5,122.71 682.8,122.91 683.1,122.92 683.4,122.72 683.7,122.83 684,122.82 684.3,122.75 684.6,122.66 684.9,122.75 685.2,122.84 685.5,122.83 685.8,122.8 686.1,122.69 686.4,122.71 686.7,122.74 687,122.77 687.3,122.76 687.8,130.1" fill="#a9d6d3" stroke="none" stroke-width="0" stroke-linejoin="round" />
<polyline points="503.4,66.5 503.7,90.01 504,105.28 504.3,115.32 504.6,120.04 504.9,121.04 505.2,119.11 505.5,113.73 505.8,106.31 506.1,100.08 506.4,98.96 506.7,103.9 507,111.55 507.3,117.66 507.6,121.2 507.9,122.37 508.2,122.68 508.5,122.69 508.8,122.68 509.1,122.92 509.4,122.89 509.7,122.66 510,122.75 510.3,122.79 510.6,122.8 510.9,122.76 511.2,122.92 511.5,122.75 511.8,122.81 512.1,122.93 512.4,122.84 512.7,122.79 513,122.74 513.3,122.73 513.6,122.76 513.9,122.73 514.2,122.43 514.5,122.21 514.8,121.84 515.1,121.29 515.4,120.76 515.7,119.85 516,118.94 516.3,118.23 516.6,117.88 516.9,117.5 517.2,117.84 517.5,118.14 517.8,118.92 518.1,119.7 518.4,120.73 518.7,121.23 519,121.79 519.3,122.12 519.6,122.43 519.9,122.72 520.2,122.79 520.5,122.89 520.8,122.92 521.1,122.81 521.4,122.92 521.7,122.68 522,122.93 522.3,122.78 522.6,122.71 522.9,122.87 523.2,122.91 523.5,122.77 523.8,122.68 524.1,122.91 524.4,122.88 524.7,122.83 525,122.94 525.3,122.66 525.6,122.67 525.9,122.69 526.2,122.66 526.5,122.86 526.8,122.84 527.1,122.68 527.4,122.7 527.7,122.7 528,122.83 528.3,122.85 528.6,122.94 528.9,122.76 529.2,122.94 529.5,122.78 529.8,122.77 530.1,122.73 530.4,122.72 530.7,122.94 531,122.95 531.3,122.86 531.6,122.7 531.9,122.7 532.2,122.7 532.5,122.76 532.8,122.87 533.1,122.67 533.4,122.81 533.7,122.85 534,122.66 534.3,122.78 534.6,122.89 534.9,122.82 535.2,122.79 535.5,122.91 535.8,122.83 536.1,122.75 536.4,122.77 536.7,122.93 537,122.91 537.3,122.92 537.6,122.82 537.9,122.69 538.2,122.7 538.5,122.76 538.8,122.86 539.1,122.65 539.4,122.89 539.7,122.89 540,122.8 540.3,122.65 540.6,122.89 540.9,122.77 541.2,122.85 541.5,122.82 541.8,122.87 542.1,122.77 542.4,122.94 542.7,122.94 543,122.93 543.3,122.83 543.6,122.74 543.9,122.76 544.2,122.73 544.5,122.92 544.8,122.89 545.1,122.89 545.4,122.9 545.7,122.95 546,122.86 546.3,122.75 546.6,122.88 546.9,122.73 547.2,122.83 547.5,122.7 547.8,122.91 548.1,122.8 548.4,122.73 548.7,122.93 549,122.67 549.3,122.93 549.6,122.88 549.9,122.69 550.2,122.88 550.5,122.82 550.8,122.92 551.1,122.83 551.4,122.78 551.7,122.93 552,122.68 552.3,122.88 552.6,122.68 552.9,122.73 553.2,122.68 553.5,122.91 553.8,122.78 554.1,122.87 554.4,122.73 554.7,122.87 555,122.84 555.3,122.68 555.6,122.8 555.9,122.87 556.2,122.71 556.5,122.85 556.8,122.73 557.1,122.76 557.4,122.93 557.7,122.93 558,122.95 558.3,122.78 558.6,122.82 558.9,122.89 559.2,122.88 559.5,122.79 559.8,122.91 560.1,122.77 560.4,122.94 560.7,122.79 561,122.69 561.3,122.87 561.6,122.69 561.9,122.85 562.2,122.67 562.5,122.95 562.8,122.81 563.1,122.87 563.4,122.69 563.7,122.84 564,122.76 564.3,122.72 564.6,122.89 564.9,122.66 565.2,122.79 565.5,122.68 565.8,122.91 566.1,122.92 566.4,122.66 566.7,122.79 567,122.79 567.3,122.87 567.6,122.87 567.9,122.75 568.2,122.93 568.5,122.71 568.8,122.69 569.1,122.89 569.4,122.69 569.7,122.71 570,122.8 570.3,122.75 570.6,122.7 570.9,122.93 571.2,122.79 571.5,122.89 571.8,122.73 572.1,122.92 572.4,122.72 572.7,122.92 573,122.83 573.3,122.94 573.6,122.88 573.9,122.84 574.2,122.81 574.5,122.91 574.8,122.78 575.1,122.68 575.4,122.92 575.7,122.89 576,122.85 576.3,122.87 576.6,122.72 576.9,122.79 577.2,122.9 577.5,122.94 577.8,122.93 578.1,122.7 578.4,122.86 578.7,122.82 579,122.77 579.3,122.7 579.6,122.69 579.9,122.79 580.2,122.8 580.5,122.73 580.8,122.76 581.1,122.82 581.4,122.88 581.7,122.83 582,122.7 582.3,122.92 582.6,122.76 582.9,122.94 583.2,122.94 583.5,122.69 583.8,122.82 584.1,122.94 584.4,122.77 584.7,122.81 585,122.74 585.3,122.66 585.6,122.71 585.9,122.69 586.2,122.74 586.5,122.84 586.8,122.82 587.1,122.93 587.4,122.86 587.7,122.76 588,122.93 588.3,122.84 588.6,122.81 588.9,122.91 589.2,122.85 589.5,122.76 589.8,122.83 590.1,122.74 590.4,122.94 590.7,122.72 591,122.94 591.3,122.67 591.6,122.65 591.9,122.82 592.2,122.71 592.5,122.8 592.8,122.69 593.1,122.9 593.4,122.85 593.7,122.86 594,122.93 594.3,122.95 594.6,122.85 594.9,122.86 595.2,122.65 595.5,122.66 595.8,122.78 596.1,122.94 596.4,122.74 596.7,122.82 597,122.65 597.3,122.77 597.6,122.92 597.9,122.83 598.2,122.89 598.5,122.64 598.8,122.69 599.1,122.66 599.4,122.81 599.7,122.51 600,122.65 600.3,122.29 600.6,122.28 600.9,121.97 601.2,121.72 601.5,121.79 601.8,121.57 602.1,121.71 602.4,121.65 602.7,122.06 603,122.31 603.3,122.24 603.6,122.59 603.9,122.56 604.2,122.6 604.5,122.71 604.8,122.83 605.1,122.93 605.4,122.94 605.7,122.95 606,122.84 606.3,122.85 606.6,122.7 606.9,122.87 607.2,122.82 607.5,122.76 607.8,122.92 608.1,122.73 608.4,122.69 608.7,122.7 609,122.69 609.3,122.83 609.6,122.89 609.9,122.7 610.2,122.8 610.5,122.82 610.8,122.82 611.1,122.77 611.4,122.81 611.7,122.65 612,122.67 612.3,122.78 612.6,122.72 612.9,122.88 613.2,122.72 613.5,122.9 613.8,122.72 614.1,122.68 614.4,122.79 614.7,122.77 615,122.75 615.3,122.88 615.6,122.72 615.9,122.85 616.2,122.9 616.5,122.79 616.8,122.8 617.1,122.93 617.4,122.83 617.7,122.7 618,122.67 618.3,122.67 618.6,122.75 618.9,122.68 619.2,122.84 619.5,122.78 619.8,122.74 620.1,122.8 620.4,122.93 620.7,122.72 621,122.7 621.3,122.74 621.6,122.75 621.9,122.92 622.2,122.86 622.5,122.78 622.8,122.7 623.1,122.66 623.4,122.69 623.7,122.9 624,122.84 624.3,122.7 624.6,122.84 624.9,122.67 625.2,122.8 625.5,122.75 625.8,122.68 626.1,122.87 626.4,122.86 626.7,122.78 627,122.65 627.3,122.73 627.6,122.53 627.9,122.36 628.2,121.83 628.5,121.6 628.8,120.8 629.1,120.39 629.4,120.13 629.7,120.03 630,120.22 630.3,120.84 630.6,121.45 630.9,121.76 631.2,122.14 631.5,122.53 631.8,122.56 632.1,122.7 632.4,122.83 632.7,122.77 633,122.69 633.3,122.67 633.6,122.81 633.9,122.95 634.2,122.93 634.5,122.68 634.8,122.8 635.1,122.8 635.4,122.71 635.7,122.85 636,122.8 636.3,122.89 636.6,122.73 636.9,122.91 637.2,122.84 637.5,122.67 637.8,122.41 638.1,122.24 638.4,121.68 638.7,121.23 639,120.51 639.3,119.75 639.6,119.34 639.9,118.86 640.2,119.26 640.5,119.82 640.8,120.33 641.1,121.13 641.4,121.66 641.7,122.27 642,122.59 642.3,122.63 642.6,122.81 642.9,122.74 643.2,122.86 643.5,122.73 643.8,122.94 644.1,122.78 644.4,122.65 644.7,122.68 645,122.87 645.3,122.91 645.6,122.84 645.9,122.7 646.2,122.91 646.5,122.87 646.8,122.68 647.1,122.76 647.4,122.85 647.7,122.64 648,122.63 648.3,122.67 648.6,122.69 648.9,122.45 649.2,121.75 649.5,121.13 649.8,119.99 650.1,118.7 650.4,117.33 650.7,116.49 651,116.04 651.3,116.49 651.6,117.32 651.9,118.5 652.2,119.91 652.5,121 652.8,121.75 653.1,122.26 653.4,122.58 653.7,122.74 654,122.68 654.3,122.72 654.6,122.8 654.9,122.8 655.2,122.78 655.5,122.85 655.8,122.71 656.1,122.81 656.4,122.73 656.7,122.88 657,122.86 657.3,122.88 657.6,122.81 657.9,122.72 658.2,122.93 658.5,122.8 658.8,122.76 659.1,122.74 659.4,122.77 659.7,122.86 660,122.9 660.3,122.79 660.6,122.87 660.9,122.71 661.2,122.79 661.5,122.76 661.8,122.74 662.1,122.76 662.4,122.88 662.7,122.87 663,122.71 663.3,122.7 663.6,122.85 663.9,122.77 664.2,122.71 664.5,122.6 664.8,122.47 665.1,122.17 665.4,121.9 665.7,121.79 666,121.54 666.3,121.74 666.6,121.63 666.9,121.78 667.2,122.04 667.5,122.19 667.8,122.22 668.1,122.42 668.4,122.48 668.7,122.77 669,122.81 669.3,122.77 669.6,122.75 669.9,122.73 670.2,122.79 670.5,122.86 670.8,122.92 671.1,122.9 671.4,122.91 671.7,122.78 672,122.78 672.3,122.74 672.6,122.94 672.9,122.71 673.2,122.7 673.5,122.73 673.8,122.93 674.1,122.91 674.4,122.75 674.7,122.91 675,122.92 675.3,122.78 675.6,122.71 675.9,122.88 676.2,122.76 676.5,122.69 676.8,122.92 677.1,122.78 677.4,122.77 677.7,122.83 678,122.73 678.3,122.66 678.6,122.77 678.9,122.76 679.2,122.65 679.5,122.76 679.8,122.88 680.1,122.75 680.4,122.85 680.7,122.84 681,122.71 681.3,122.66 681.6,122.85 681.9,122.83 682.2,122.74 682.5,122.71 682.8,122.91 683.1,122.92 683.4,122.72 683.7,122.83 684,122.82 684.3,122.75 684.6,122.66 684.9,122.75 685.2,122.84 685.5,122.83 685.8,122.8 686.1,122.69 686.4,122.71 686.7,122.74 687,122.77 687.3,122.76" fill="none" stroke="#0b8480" stroke-width="1.4" stroke-linejoin="round" />
<rect x="502" y="1.2" width="185.8" height="128.9" fill="none" stroke="#2a2a2a" stroke-width="1.35"/>
<line x1="502" y1="65.5" x2="687.8" y2="65.5" stroke="#2a2a2a" stroke-width="1.35" />
<line x1="538.7" y1="64.8" x2="538.7" y2="62.2" stroke="#222" stroke-width="1.0" />
<line x1="575.8" y1="64.8" x2="575.8" y2="62.2" stroke="#222" stroke-width="1.0" />
<line x1="612.9" y1="64.8" x2="612.9" y2="62.2" stroke="#222" stroke-width="1.0" />
<line x1="650" y1="64.8" x2="650" y2="62.2" stroke="#222" stroke-width="1.0" />
<line x1="520.15" y1="64.8" x2="520.15" y2="63.5" stroke="#222" stroke-width="1.0" />
<line x1="557.25" y1="64.8" x2="557.25" y2="63.5" stroke="#222" stroke-width="1.0" />
<line x1="594.35" y1="64.8" x2="594.35" y2="63.5" stroke="#222" stroke-width="1.0" />
<line x1="631.45" y1="64.8" x2="631.45" y2="63.5" stroke="#222" stroke-width="1.0" />
<line x1="668.55" y1="64.8" x2="668.55" y2="63.5" stroke="#222" stroke-width="1.0" />
<line x1="538.7" y1="129.4" x2="538.7" y2="126.8" stroke="#222" stroke-width="1.0" />
<line x1="575.8" y1="129.4" x2="575.8" y2="126.8" stroke="#222" stroke-width="1.0" />
<line x1="612.9" y1="129.4" x2="612.9" y2="126.8" stroke="#222" stroke-width="1.0" />
<line x1="650" y1="129.4" x2="650" y2="126.8" stroke="#222" stroke-width="1.0" />
<line x1="520.15" y1="129.4" x2="520.15" y2="128.1" stroke="#222" stroke-width="1.0" />
<line x1="557.25" y1="129.4" x2="557.25" y2="128.1" stroke="#222" stroke-width="1.0" />
<line x1="594.35" y1="129.4" x2="594.35" y2="128.1" stroke="#222" stroke-width="1.0" />
<line x1="631.45" y1="129.4" x2="631.45" y2="128.1" stroke="#222" stroke-width="1.0" />
<line x1="668.55" y1="129.4" x2="668.55" y2="128.1" stroke="#222" stroke-width="1.0" />
<text x="468.3" y="21" font-size="28.5" fill="#000" font-weight="bold" text-anchor="start" >c</text>
<text x="594.5" y="15.3" font-size="9" fill="#000" font-weight="bold" text-anchor="start" textLength="84.8" lengthAdjust="spacingAndGlyphs" >Ni-Co@Fe-Co PBA</text>
<text x="619" y="79.8" font-size="9" fill="#000" font-weight="bold" text-anchor="start" textLength="59.6" lengthAdjust="spacingAndGlyphs" >NiFe-Co PBA</text>
<text x="505.7" y="40.6" font-size="8" fill="#000" font-weight="bold" text-anchor="start" textLength="6" lengthAdjust="spacingAndGlyphs" >N</text>
<text x="513.4" y="51.7" font-size="8" fill="#000" font-weight="bold" text-anchor="start" textLength="6.4" lengthAdjust="spacingAndGlyphs" >O</text>
<text x="621.4" y="55" font-size="8" fill="#000" font-weight="bold" text-anchor="start" textLength="9" lengthAdjust="spacingAndGlyphs" >Fe</text>
<text x="633" y="51.2" font-size="8" fill="#000" font-weight="bold" text-anchor="start" textLength="10.9" lengthAdjust="spacingAndGlyphs" >Co</text>
<text x="647.2" y="46.7" font-size="8" fill="#000" font-weight="bold" text-anchor="start" textLength="9" lengthAdjust="spacingAndGlyphs" >Ni</text>
<text x="505.7" y="94.3" font-size="8" fill="#000" font-weight="bold" text-anchor="start" textLength="6.3" lengthAdjust="spacingAndGlyphs" >N</text>
<text x="513.7" y="113.6" font-size="8" fill="#000" font-weight="bold" text-anchor="start" textLength="7" lengthAdjust="spacingAndGlyphs" >O</text>
<text x="620.6" y="118.3" font-size="8" fill="#000" font-weight="bold" text-anchor="start" textLength="9" lengthAdjust="spacingAndGlyphs" >Fe</text>
<text x="633.5" y="114.4" font-size="8" fill="#000" font-weight="bold" text-anchor="start" textLength="10.5" lengthAdjust="spacingAndGlyphs" >Co</text>
<text x="647.9" y="112.2" font-size="8" fill="#000" font-weight="bold" text-anchor="start" textLength="8.9" lengthAdjust="spacingAndGlyphs" >Ni</text>
<text x="501" y="141.3" font-size="9.5" fill="#000" font-weight="bold" text-anchor="middle" >0</text>
<text x="538.1" y="141.3" font-size="9.5" fill="#000" font-weight="bold" text-anchor="middle" >2</text>
<text x="575.2" y="141.3" font-size="9.5" fill="#000" font-weight="bold" text-anchor="middle" >4</text>
<text x="612.3" y="141.3" font-size="9.5" fill="#000" font-weight="bold" text-anchor="middle" >6</text>
<text x="649.4" y="141.3" font-size="9.5" fill="#000" font-weight="bold" text-anchor="middle" >8</text>
<text x="686.5" y="141.3" font-size="9.5" fill="#000" font-weight="bold" text-anchor="middle" >10</text>
<text x="597.3" y="151.6" font-size="10.5" fill="#000" font-weight="bold" text-anchor="middle" textLength="61.3" lengthAdjust="spacingAndGlyphs" >Energy (keV)</text>
<text x="0" y="0" font-size="10" fill="#000" font-weight="bold" text-anchor="middle" textLength="32.6" lengthAdjust="spacingAndGlyphs" transform="translate(497.3,63.1) rotate(-90)">Counts</text>
<polyline points="286.5,215.3 286.8,213.8 287.5,212.8 288.5,212.1 290,211.6 292,211.2 294.5,210.9 297,210.7 300,210.5 303,210.3 309.8,209.9 317.6,209.4 325.4,208.8 333.2,208.3 340,207.9 345.8,207.5 351.5,206.9 357.3,206.3 364,205.4 371.7,204.6 379.4,204 387.1,202.7 395.4,201.5 403.1,200.2 410.8,197.7 418.5,193.5 426.5,185.8 430.4,181.9 433.3,177.1 436.2,170.4 440,163.1" fill="none" stroke="#ff0000" stroke-width="1.5" stroke-linejoin="round" />
<polyline points="440,163.1 430.4,167.5 423.7,171.9 417.3,175.8 410.2,181 402.5,186.7 394.4,191.5 386.2,195.8 380.4,197.7 376.5,199.2 372.7,200.6 368.5,201.7 364.6,203.1 362.1,204.6 357,205.6" fill="none" stroke="#ff0000" stroke-width="1.5" stroke-linejoin="round" />
<circle cx="309.8" cy="209.9" r="1.6" fill="#ff0000"/>
<circle cx="317.6" cy="209.4" r="1.6" fill="#ff0000"/>
<circle cx="325.4" cy="208.8" r="1.6" fill="#ff0000"/>
<circle cx="333.2" cy="208.3" r="1.6" fill="#ff0000"/>
<circle cx="340" cy="207.9" r="1.6" fill="#ff0000"/>
<circle cx="345.8" cy="207.5" r="1.6" fill="#ff0000"/>
<circle cx="351.5" cy="206.9" r="1.6" fill="#ff0000"/>
<circle cx="357.3" cy="206.3" r="1.6" fill="#ff0000"/>
<circle cx="364" cy="205.4" r="1.6" fill="#ff0000"/>
<circle cx="371.7" cy="204.6" r="1.6" fill="#ff0000"/>
<circle cx="379.4" cy="204" r="1.6" fill="#ff0000"/>
<circle cx="387.1" cy="202.7" r="1.6" fill="#ff0000"/>
<circle cx="395.4" cy="201.5" r="1.6" fill="#ff0000"/>
<circle cx="403.1" cy="200.2" r="1.6" fill="#ff0000"/>
<circle cx="410.8" cy="197.7" r="1.6" fill="#ff0000"/>
<circle cx="418.5" cy="193.5" r="1.6" fill="#ff0000"/>
<circle cx="426.5" cy="185.8" r="1.6" fill="#ff0000"/>
<circle cx="430.4" cy="181.9" r="1.6" fill="#ff0000"/>
<circle cx="433.3" cy="177.1" r="1.6" fill="#ff0000"/>
<circle cx="436.2" cy="170.4" r="1.6" fill="#ff0000"/>
<circle cx="440" cy="163.1" r="1.6" fill="#ff0000"/>
<circle cx="430.4" cy="167.5" r="1.6" fill="#ff0000"/>
<circle cx="423.7" cy="171.9" r="1.6" fill="#ff0000"/>
<circle cx="417.3" cy="175.8" r="1.6" fill="#ff0000"/>
<circle cx="410.2" cy="181" r="1.6" fill="#ff0000"/>
<circle cx="402.5" cy="186.7" r="1.6" fill="#ff0000"/>
<circle cx="394.4" cy="191.5" r="1.6" fill="#ff0000"/>
<circle cx="386.2" cy="195.8" r="1.6" fill="#ff0000"/>
<circle cx="380.4" cy="197.7" r="1.6" fill="#ff0000"/>
<circle cx="376.5" cy="199.2" r="1.6" fill="#ff0000"/>
<circle cx="372.7" cy="200.6" r="1.6" fill="#ff0000"/>
<circle cx="368.5" cy="201.7" r="1.6" fill="#ff0000"/>
<circle cx="364.6" cy="203.1" r="1.6" fill="#ff0000"/>
<circle cx="362.1" cy="204.6" r="1.6" fill="#ff0000"/>
<circle cx="357" cy="205.6" r="1.6" fill="#ff0000"/>
<circle cx="286.5" cy="215.3" r="1.5" fill="#ff0000"/>
<circle cx="286.65" cy="214.55" r="1.5" fill="#ff0000"/>
<circle cx="286.8" cy="213.8" r="1.5" fill="#ff0000"/>
<circle cx="287.15" cy="213.3" r="1.5" fill="#ff0000"/>
<circle cx="287.5" cy="212.8" r="1.5" fill="#ff0000"/>
<circle cx="288" cy="212.45" r="1.5" fill="#ff0000"/>
<circle cx="288.5" cy="212.1" r="1.5" fill="#ff0000"/>
<circle cx="289.25" cy="211.85" r="1.5" fill="#ff0000"/>
<circle cx="290" cy="211.6" r="1.5" fill="#ff0000"/>
<circle cx="291" cy="211.4" r="1.5" fill="#ff0000"/>
<circle cx="292" cy="211.2" r="1.5" fill="#ff0000"/>
<circle cx="293.25" cy="211.05" r="1.5" fill="#ff0000"/>
<circle cx="294.5" cy="210.9" r="1.5" fill="#ff0000"/>
<circle cx="295.75" cy="210.8" r="1.5" fill="#ff0000"/>
<circle cx="297" cy="210.7" r="1.5" fill="#ff0000"/>
<circle cx="298.5" cy="210.6" r="1.5" fill="#ff0000"/>
<circle cx="300" cy="210.5" r="1.5" fill="#ff0000"/>
<circle cx="301.5" cy="210.4" r="1.5" fill="#ff0000"/>
<polyline points="286.6,279 286.6,262 287,259.3 288,257.2 290,255.4 293,254 297,252.8 301.5,252 309.5,251.2 317.6,250.1 325.4,249.3 333.2,248.8 340.8,248.6 347.9,248.1 351.9,247.8 356.7,247.3 363.8,247 371.7,246.2 379.7,245.4 387.6,244.6 395.6,243.5 403.2,242.2 410.6,240.3 418.6,238.3 425.7,235.9 429.7,234.3 434.4,231.9 436.8,228.7 440.3,225.6" fill="none" stroke="#0b8480" stroke-width="1.5" stroke-linejoin="round" />
<polyline points="440.3,225.6 433.7,226.7 425.7,231.1 417.5,234.3 409.4,236.7 401.9,238.7 394,240.3 386,241.4 378.9,242.7 372.5,243.8 367,244.6 362.2,245.4 357.5,246.2 352,247" fill="none" stroke="#0b8480" stroke-width="1.5" stroke-linejoin="round" />
<circle cx="309.5" cy="251.2" r="1.6" fill="#0b8480"/>
<circle cx="317.6" cy="250.1" r="1.6" fill="#0b8480"/>
<circle cx="325.4" cy="249.3" r="1.6" fill="#0b8480"/>
<circle cx="333.2" cy="248.8" r="1.6" fill="#0b8480"/>
<circle cx="340.8" cy="248.6" r="1.6" fill="#0b8480"/>
<circle cx="347.9" cy="248.1" r="1.6" fill="#0b8480"/>
<circle cx="351.9" cy="247.8" r="1.6" fill="#0b8480"/>
<circle cx="356.7" cy="247.3" r="1.6" fill="#0b8480"/>
<circle cx="363.8" cy="247" r="1.6" fill="#0b8480"/>
<circle cx="371.7" cy="246.2" r="1.6" fill="#0b8480"/>
<circle cx="379.7" cy="245.4" r="1.6" fill="#0b8480"/>
<circle cx="387.6" cy="244.6" r="1.6" fill="#0b8480"/>
<circle cx="395.6" cy="243.5" r="1.6" fill="#0b8480"/>
<circle cx="403.2" cy="242.2" r="1.6" fill="#0b8480"/>
<circle cx="410.6" cy="240.3" r="1.6" fill="#0b8480"/>
<circle cx="418.6" cy="238.3" r="1.6" fill="#0b8480"/>
<circle cx="425.7" cy="235.9" r="1.6" fill="#0b8480"/>
<circle cx="429.7" cy="234.3" r="1.6" fill="#0b8480"/>
<circle cx="434.4" cy="231.9" r="1.6" fill="#0b8480"/>
<circle cx="436.8" cy="228.7" r="1.6" fill="#0b8480"/>
<circle cx="440.3" cy="225.6" r="1.6" fill="#0b8480"/>
<circle cx="433.7" cy="226.7" r="1.6" fill="#0b8480"/>
<circle cx="425.7" cy="231.1" r="1.6" fill="#0b8480"/>
<circle cx="417.5" cy="234.3" r="1.6" fill="#0b8480"/>
<circle cx="409.4" cy="236.7" r="1.6" fill="#0b8480"/>
<circle cx="401.9" cy="238.7" r="1.6" fill="#0b8480"/>
<circle cx="394" cy="240.3" r="1.6" fill="#0b8480"/>
<circle cx="386" cy="241.4" r="1.6" fill="#0b8480"/>
<circle cx="378.9" cy="242.7" r="1.6" fill="#0b8480"/>
<circle cx="372.5" cy="243.8" r="1.6" fill="#0b8480"/>
<circle cx="367" cy="244.6" r="1.6" fill="#0b8480"/>
<circle cx="362.2" cy="245.4" r="1.6" fill="#0b8480"/>
<circle cx="357.5" cy="246.2" r="1.6" fill="#0b8480"/>
<circle cx="352" cy="247" r="1.6" fill="#0b8480"/>
<circle cx="286.6" cy="279" r="1.75" fill="#0b8480"/>
<circle cx="286.6" cy="278.19" r="1.75" fill="#0b8480"/>
<circle cx="286.6" cy="277.38" r="1.75" fill="#0b8480"/>
<circle cx="286.6" cy="276.57" r="1.75" fill="#0b8480"/>
<circle cx="286.6" cy="275.76" r="1.75" fill="#0b8480"/>
<circle cx="286.6" cy="274.95" r="1.75" fill="#0b8480"/>
<circle cx="286.6" cy="274.14" r="1.75" fill="#0b8480"/>
<circle cx="286.6" cy="273.33" r="1.75" fill="#0b8480"/>
<circle cx="286.6" cy="272.52" r="1.75" fill="#0b8480"/>
<circle cx="286.6" cy="271.71" r="1.75" fill="#0b8480"/>
<circle cx="286.6" cy="270.9" r="1.75" fill="#0b8480"/>
<circle cx="286.6" cy="270.1" r="1.75" fill="#0b8480"/>
<circle cx="286.6" cy="269.29" r="1.75" fill="#0b8480"/>
<circle cx="286.6" cy="268.48" r="1.75" fill="#0b8480"/>
<circle cx="286.6" cy="267.67" r="1.75" fill="#0b8480"/>
<circle cx="286.6" cy="266.86" r="1.75" fill="#0b8480"/>
<circle cx="286.6" cy="266.05" r="1.75" fill="#0b8480"/>
<circle cx="286.6" cy="265.24" r="1.75" fill="#0b8480"/>
<circle cx="286.6" cy="264.43" r="1.75" fill="#0b8480"/>
<circle cx="286.6" cy="263.62" r="1.75" fill="#0b8480"/>
<circle cx="286.6" cy="262.81" r="1.75" fill="#0b8480"/>
<circle cx="286.6" cy="262" r="1.75" fill="#0b8480"/>
<circle cx="286.73" cy="261.1" r="1.75" fill="#0b8480"/>
<circle cx="286.87" cy="260.2" r="1.75" fill="#0b8480"/>
<circle cx="287" cy="259.3" r="1.75" fill="#0b8480"/>
<circle cx="287.5" cy="258.25" r="1.75" fill="#0b8480"/>
<circle cx="288" cy="257.2" r="1.75" fill="#0b8480"/>
<circle cx="288.67" cy="256.6" r="1.75" fill="#0b8480"/>
<circle cx="289.33" cy="256" r="1.75" fill="#0b8480"/>
<circle cx="290" cy="255.4" r="1.75" fill="#0b8480"/>
<circle cx="290.75" cy="255.05" r="1.75" fill="#0b8480"/>
<circle cx="291.5" cy="254.7" r="1.75" fill="#0b8480"/>
<circle cx="292.25" cy="254.35" r="1.75" fill="#0b8480"/>
<circle cx="293" cy="254" r="1.75" fill="#0b8480"/>
<circle cx="293.8" cy="253.76" r="1.75" fill="#0b8480"/>
<circle cx="294.6" cy="253.52" r="1.75" fill="#0b8480"/>
<circle cx="295.4" cy="253.28" r="1.75" fill="#0b8480"/>
<circle cx="296.2" cy="253.04" r="1.75" fill="#0b8480"/>
<circle cx="297" cy="252.8" r="1.75" fill="#0b8480"/>
<circle cx="297.9" cy="252.64" r="1.75" fill="#0b8480"/>
<circle cx="298.8" cy="252.48" r="1.75" fill="#0b8480"/>
<circle cx="299.7" cy="252.32" r="1.75" fill="#0b8480"/>
<circle cx="300.6" cy="252.16" r="1.75" fill="#0b8480"/>
<rect x="271.2" y="155.6" width="186.4" height="130.2" fill="none" stroke="#2a2a2a" stroke-width="1.35"/>
<line x1="271.2" y1="220.2" x2="457.6" y2="220.2" stroke="#2a2a2a" stroke-width="1.35" />
<line x1="286.5" y1="219.5" x2="286.5" y2="216.9" stroke="#222" stroke-width="1.0" />
<line x1="317.4" y1="219.5" x2="317.4" y2="216.9" stroke="#222" stroke-width="1.0" />
<line x1="348.3" y1="219.5" x2="348.3" y2="216.9" stroke="#222" stroke-width="1.0" />
<line x1="379.2" y1="219.5" x2="379.2" y2="216.9" stroke="#222" stroke-width="1.0" />
<line x1="410.1" y1="219.5" x2="410.1" y2="216.9" stroke="#222" stroke-width="1.0" />
<line x1="441" y1="219.5" x2="441" y2="216.9" stroke="#222" stroke-width="1.0" />
<line x1="301.95" y1="219.5" x2="301.95" y2="218.2" stroke="#222" stroke-width="1.0" />
<line x1="332.85" y1="219.5" x2="332.85" y2="218.2" stroke="#222" stroke-width="1.0" />
<line x1="363.75" y1="219.5" x2="363.75" y2="218.2" stroke="#222" stroke-width="1.0" />
<line x1="394.65" y1="219.5" x2="394.65" y2="218.2" stroke="#222" stroke-width="1.0" />
<line x1="425.55" y1="219.5" x2="425.55" y2="218.2" stroke="#222" stroke-width="1.0" />
<line x1="286.5" y1="285.1" x2="286.5" y2="282.5" stroke="#222" stroke-width="1.0" />
<line x1="317.4" y1="285.1" x2="317.4" y2="282.5" stroke="#222" stroke-width="1.0" />
<line x1="348.3" y1="285.1" x2="348.3" y2="282.5" stroke="#222" stroke-width="1.0" />
<line x1="379.2" y1="285.1" x2="379.2" y2="282.5" stroke="#222" stroke-width="1.0" />
<line x1="410.1" y1="285.1" x2="410.1" y2="282.5" stroke="#222" stroke-width="1.0" />
<line x1="441" y1="285.1" x2="441" y2="282.5" stroke="#222" stroke-width="1.0" />
<line x1="301.95" y1="285.1" x2="301.95" y2="283.8" stroke="#222" stroke-width="1.0" />
<line x1="332.85" y1="285.1" x2="332.85" y2="283.8" stroke="#222" stroke-width="1.0" />
<line x1="363.75" y1="285.1" x2="363.75" y2="283.8" stroke="#222" stroke-width="1.0" />
<line x1="394.65" y1="285.1" x2="394.65" y2="283.8" stroke="#222" stroke-width="1.0" />
<line x1="425.55" y1="285.1" x2="425.55" y2="283.8" stroke="#222" stroke-width="1.0" />
<line x1="271.9" y1="216.2" x2="274.5" y2="216.2" stroke="#222" stroke-width="1.0" />
<line x1="271.9" y1="199" x2="274.5" y2="199" stroke="#222" stroke-width="1.0" />
<line x1="271.9" y1="181.8" x2="274.5" y2="181.8" stroke="#222" stroke-width="1.0" />
<line x1="271.9" y1="164.6" x2="274.5" y2="164.6" stroke="#222" stroke-width="1.0" />
<line x1="271.9" y1="207.6" x2="273.2" y2="207.6" stroke="#222" stroke-width="1.0" />
<line x1="271.9" y1="190.4" x2="273.2" y2="190.4" stroke="#222" stroke-width="1.0" />
<line x1="271.9" y1="173.2" x2="273.2" y2="173.2" stroke="#222" stroke-width="1.0" />
<line x1="271.9" y1="279.3" x2="274.5" y2="279.3" stroke="#222" stroke-width="1.0" />
<line x1="271.9" y1="263.87" x2="274.5" y2="263.87" stroke="#222" stroke-width="1.0" />
<line x1="271.9" y1="248.44" x2="274.5" y2="248.44" stroke="#222" stroke-width="1.0" />
<line x1="271.9" y1="233.01" x2="274.5" y2="233.01" stroke="#222" stroke-width="1.0" />
<line x1="271.9" y1="271.59" x2="273.2" y2="271.59" stroke="#222" stroke-width="1.0" />
<line x1="271.9" y1="256.16" x2="273.2" y2="256.16" stroke="#222" stroke-width="1.0" />
<line x1="271.9" y1="240.73" x2="273.2" y2="240.73" stroke="#222" stroke-width="1.0" />
<line x1="271.9" y1="225.3" x2="273.2" y2="225.3" stroke="#222" stroke-width="1.0" />
<text x="226.8" y="171.4" font-size="28" fill="#000" font-weight="bold" text-anchor="start" >d</text>
<text x="267.9" y="218.6" font-size="7.9" fill="#000" font-weight="bold" text-anchor="end" >0</text>
<text x="267.9" y="201.4" font-size="7.9" fill="#000" font-weight="bold" text-anchor="end" >100</text>
<text x="267.9" y="184.2" font-size="7.9" fill="#000" font-weight="bold" text-anchor="end" >200</text>
<text x="267.9" y="167" font-size="7.9" fill="#000" font-weight="bold" text-anchor="end" >300</text>
<text x="267.9" y="281.7" font-size="7.9" fill="#000" font-weight="bold" text-anchor="end" >0</text>
<text x="267.9" y="266.27" font-size="7.9" fill="#000" font-weight="bold" text-anchor="end" >50</text>
<text x="267.9" y="250.84" font-size="7.9" fill="#000" font-weight="bold" text-anchor="end" >100</text>
<text x="267.9" y="235.41" font-size="7.9" fill="#000" font-weight="bold" text-anchor="end" >150</text>
<text x="286.5" y="295.2" font-size="8.5" fill="#000" font-weight="bold" text-anchor="middle" >0.0</text>
<text x="317.4" y="295.2" font-size="8.5" fill="#000" font-weight="bold" text-anchor="middle" >0.2</text>
<text x="348.3" y="295.2" font-size="8.5" fill="#000" font-weight="bold" text-anchor="middle" >0.4</text>
<text x="379.2" y="295.2" font-size="8.5" fill="#000" font-weight="bold" text-anchor="middle" >0.6</text>
<text x="410.1" y="295.2" font-size="8.5" fill="#000" font-weight="bold" text-anchor="middle" >0.8</text>
<text x="441" y="295.2" font-size="8.5" fill="#000" font-weight="bold" text-anchor="middle" >1.0</text>
<text x="279.4" y="170.5" font-size="9.6" fill="#000" font-weight="bold" text-anchor="start" textLength="84" lengthAdjust="spacingAndGlyphs" >Ni-Co@Fe-Co PBA</text>
<text x="278.5" y="235.2" font-size="9.6" fill="#000" font-weight="bold" text-anchor="start" textLength="59" lengthAdjust="spacingAndGlyphs" >NiFe-Co PBA</text>
<text x="364.3" y="307.2" font-size="10.3" fill="#000" font-weight="bold" text-anchor="middle" textLength="96.4" lengthAdjust="spacingAndGlyphs" >Relative pressure (P/P<tspan font-size="6.5" dy="2">o</tspan><tspan dy="-2">)</tspan></text>
<text x="0" y="0" font-size="10" fill="#000" font-weight="bold" text-anchor="middle" textLength="134" lengthAdjust="spacingAndGlyphs" transform="translate(253.2,221) rotate(-90)">Volume adsorbed (cm<tspan font-size="6.5" dy="-3.5">3</tspan><tspan dy="3.5"> g</tspan><tspan font-size="6.5" dy="-3.5">-1</tspan><tspan dy="3.5">, STP)</tspan></text>
<polyline points="518.5,214 519.2,203 519.6,192 520.1,182 520.8,172 521.5,164.1 522.2,176 522.8,214 523.3,210 523.8,204 525,198 526.5,193 528.7,189 531,192 533.5,194.5 535.5,195 536.4,203.8 537.6,199 539,194.9 540.2,197 541.5,202.6 543.5,198 545.5,192 547.2,186.4 550,187 551.8,192 553.6,196.7 557,195 560,192 563.5,188 567.2,182 570,182.8 573,187 577.2,191 581.5,188.5 585.9,184.6 590,184.1 593.6,188 597.7,195.6 602,188 605.9,190.5 610.5,195.6 614.9,193 619.5,190.5 622,204.4 626.4,196.7 630.3,196.7 632.8,205.9 636.2,200 640.5,208.5 645.6,205.1 649.5,206.9 651.5,212 654.1,206.9 657.2,211.5 661,211 663.6,211.5 667.4,214.6 670,210.3 673.3,205.9" fill="none" stroke="#ff0000" stroke-width="1.5" stroke-linejoin="round" />
<circle cx="518.5" cy="214" r="1.6" fill="#ff0000"/>
<circle cx="519.2" cy="203" r="1.6" fill="#ff0000"/>
<circle cx="519.6" cy="192" r="1.6" fill="#ff0000"/>
<circle cx="520.1" cy="182" r="1.6" fill="#ff0000"/>
<circle cx="520.8" cy="172" r="1.6" fill="#ff0000"/>
<circle cx="521.5" cy="164.1" r="1.6" fill="#ff0000"/>
<circle cx="522.2" cy="176" r="1.6" fill="#ff0000"/>
<circle cx="522.8" cy="214" r="1.6" fill="#ff0000"/>
<circle cx="523.3" cy="210" r="1.6" fill="#ff0000"/>
<circle cx="523.8" cy="204" r="1.6" fill="#ff0000"/>
<circle cx="525" cy="198" r="1.6" fill="#ff0000"/>
<circle cx="526.5" cy="193" r="1.6" fill="#ff0000"/>
<circle cx="528.7" cy="189" r="1.6" fill="#ff0000"/>
<circle cx="531" cy="192" r="1.6" fill="#ff0000"/>
<circle cx="533.5" cy="194.5" r="1.6" fill="#ff0000"/>
<circle cx="535.5" cy="195" r="1.6" fill="#ff0000"/>
<circle cx="536.4" cy="203.8" r="1.6" fill="#ff0000"/>
<circle cx="537.6" cy="199" r="1.6" fill="#ff0000"/>
<circle cx="539" cy="194.9" r="1.6" fill="#ff0000"/>
<circle cx="540.2" cy="197" r="1.6" fill="#ff0000"/>
<circle cx="541.5" cy="202.6" r="1.6" fill="#ff0000"/>
<circle cx="543.5" cy="198" r="1.6" fill="#ff0000"/>
<circle cx="545.5" cy="192" r="1.6" fill="#ff0000"/>
<circle cx="547.2" cy="186.4" r="1.6" fill="#ff0000"/>
<circle cx="550" cy="187" r="1.6" fill="#ff0000"/>
<circle cx="551.8" cy="192" r="1.6" fill="#ff0000"/>
<circle cx="553.6" cy="196.7" r="1.6" fill="#ff0000"/>
<circle cx="557" cy="195" r="1.6" fill="#ff0000"/>
<circle cx="560" cy="192" r="1.6" fill="#ff0000"/>
<circle cx="563.5" cy="188" r="1.6" fill="#ff0000"/>
<circle cx="567.2" cy="182" r="1.6" fill="#ff0000"/>
<circle cx="570" cy="182.8" r="1.6" fill="#ff0000"/>
<circle cx="573" cy="187" r="1.6" fill="#ff0000"/>
<circle cx="577.2" cy="191" r="1.6" fill="#ff0000"/>
<circle cx="581.5" cy="188.5" r="1.6" fill="#ff0000"/>
<circle cx="585.9" cy="184.6" r="1.6" fill="#ff0000"/>
<circle cx="590" cy="184.1" r="1.6" fill="#ff0000"/>
<circle cx="593.6" cy="188" r="1.6" fill="#ff0000"/>
<circle cx="597.7" cy="195.6" r="1.6" fill="#ff0000"/>
<circle cx="602" cy="188" r="1.6" fill="#ff0000"/>
<circle cx="605.9" cy="190.5" r="1.6" fill="#ff0000"/>
<circle cx="610.5" cy="195.6" r="1.6" fill="#ff0000"/>
<circle cx="614.9" cy="193" r="1.6" fill="#ff0000"/>
<circle cx="619.5" cy="190.5" r="1.6" fill="#ff0000"/>
<circle cx="622" cy="204.4" r="1.6" fill="#ff0000"/>
<circle cx="626.4" cy="196.7" r="1.6" fill="#ff0000"/>
<circle cx="630.3" cy="196.7" r="1.6" fill="#ff0000"/>
<circle cx="632.8" cy="205.9" r="1.6" fill="#ff0000"/>
<circle cx="636.2" cy="200" r="1.6" fill="#ff0000"/>
<circle cx="640.5" cy="208.5" r="1.6" fill="#ff0000"/>
<circle cx="645.6" cy="205.1" r="1.6" fill="#ff0000"/>
<circle cx="649.5" cy="206.9" r="1.6" fill="#ff0000"/>
<circle cx="651.5" cy="212" r="1.6" fill="#ff0000"/>
<circle cx="654.1" cy="206.9" r="1.6" fill="#ff0000"/>
<circle cx="657.2" cy="211.5" r="1.6" fill="#ff0000"/>
<circle cx="661" cy="211" r="1.6" fill="#ff0000"/>
<circle cx="663.6" cy="211.5" r="1.6" fill="#ff0000"/>
<circle cx="667.4" cy="214.6" r="1.6" fill="#ff0000"/>
<circle cx="670" cy="210.3" r="1.6" fill="#ff0000"/>
<circle cx="673.3" cy="205.9" r="1.6" fill="#ff0000"/>
<polyline points="518.4,279.7 520.6,274.7 524.3,270 534.6,259.1 545.5,257.9 552.3,266.9 555.7,272.5 560.4,270.3 568.8,266.3 572.5,274 574.4,278.7 575.5,279.3 577,277.5 579.5,276.3 582,275.5 584,276.5 585,277.5 587,276.5 589,278 591,277.5 593,279 595,278 597,279.5 599,278.5 601,279 603,279.4 605,279.62 607,278.99 609,279.69 611,279.09 613,279.59 615,279.09 617,279.37 619,279.2 621,278.93 623,279.54 625,279.55 627,279.12 629,279.52 631,279.28 633,279.69 635,278.94 637,279.2 639,279.08 641,279.4 643,279.52 645,279.57 647,279.34 649,279.21 651,279.54 653,278.98 655,279.11 657,279.5 659,279.25 661,279.69 663,278.97 665,279.27 667,279.07 669,278.9 671,278.97 673,278.97" fill="none" stroke="#0b8480" stroke-width="1.5" stroke-linejoin="round" />
<circle cx="518.4" cy="279.7" r="1.55" fill="#0b8480"/>
<circle cx="520.6" cy="274.7" r="1.55" fill="#0b8480"/>
<circle cx="524.3" cy="270" r="1.55" fill="#0b8480"/>
<circle cx="534.6" cy="259.1" r="1.55" fill="#0b8480"/>
<circle cx="545.5" cy="257.9" r="1.55" fill="#0b8480"/>
<circle cx="552.3" cy="266.9" r="1.55" fill="#0b8480"/>
<circle cx="555.7" cy="272.5" r="1.55" fill="#0b8480"/>
<circle cx="560.4" cy="270.3" r="1.55" fill="#0b8480"/>
<circle cx="568.8" cy="266.3" r="1.55" fill="#0b8480"/>
<circle cx="572.5" cy="274" r="1.55" fill="#0b8480"/>
<circle cx="574.4" cy="278.7" r="1.55" fill="#0b8480"/>
<circle cx="575.5" cy="279.3" r="1.55" fill="#0b8480"/>
<circle cx="577" cy="277.5" r="1.55" fill="#0b8480"/>
<circle cx="579.5" cy="276.3" r="1.55" fill="#0b8480"/>
<circle cx="582" cy="275.5" r="1.55" fill="#0b8480"/>
<circle cx="584" cy="276.5" r="1.55" fill="#0b8480"/>
<circle cx="585" cy="277.5" r="1.55" fill="#0b8480"/>
<circle cx="587" cy="276.5" r="1.55" fill="#0b8480"/>
<circle cx="589" cy="278" r="1.55" fill="#0b8480"/>
<circle cx="591" cy="277.5" r="1.55" fill="#0b8480"/>
<circle cx="593" cy="279" r="1.55" fill="#0b8480"/>
<circle cx="595" cy="278" r="1.55" fill="#0b8480"/>
<circle cx="597" cy="279.5" r="1.55" fill="#0b8480"/>
<circle cx="599" cy="278.5" r="1.55" fill="#0b8480"/>
<circle cx="601" cy="279" r="1.55" fill="#0b8480"/>
<circle cx="603" cy="279.4" r="1.55" fill="#0b8480"/>
<circle cx="605" cy="279.62" r="1.55" fill="#0b8480"/>
<circle cx="607" cy="278.99" r="1.55" fill="#0b8480"/>
<circle cx="609" cy="279.69" r="1.55" fill="#0b8480"/>
<circle cx="611" cy="279.09" r="1.55" fill="#0b8480"/>
<circle cx="613" cy="279.59" r="1.55" fill="#0b8480"/>
<circle cx="615" cy="279.09" r="1.55" fill="#0b8480"/>
<circle cx="617" cy="279.37" r="1.55" fill="#0b8480"/>
<circle cx="619" cy="279.2" r="1.55" fill="#0b8480"/>
<circle cx="621" cy="278.93" r="1.55" fill="#0b8480"/>
<circle cx="623" cy="279.54" r="1.55" fill="#0b8480"/>
<circle cx="625" cy="279.55" r="1.55" fill="#0b8480"/>
<circle cx="627" cy="279.12" r="1.55" fill="#0b8480"/>
<circle cx="629" cy="279.52" r="1.55" fill="#0b8480"/>
<circle cx="631" cy="279.28" r="1.55" fill="#0b8480"/>
<circle cx="633" cy="279.69" r="1.55" fill="#0b8480"/>
<circle cx="635" cy="278.94" r="1.55" fill="#0b8480"/>
<circle cx="637" cy="279.2" r="1.55" fill="#0b8480"/>
<circle cx="639" cy="279.08" r="1.55" fill="#0b8480"/>
<circle cx="641" cy="279.4" r="1.55" fill="#0b8480"/>
<circle cx="643" cy="279.52" r="1.55" fill="#0b8480"/>
<circle cx="645" cy="279.57" r="1.55" fill="#0b8480"/>
<circle cx="647" cy="279.34" r="1.55" fill="#0b8480"/>
<circle cx="649" cy="279.21" r="1.55" fill="#0b8480"/>
<circle cx="651" cy="279.54" r="1.55" fill="#0b8480"/>
<circle cx="653" cy="278.98" r="1.55" fill="#0b8480"/>
<circle cx="655" cy="279.11" r="1.55" fill="#0b8480"/>
<circle cx="657" cy="279.5" r="1.55" fill="#0b8480"/>
<circle cx="659" cy="279.25" r="1.55" fill="#0b8480"/>
<circle cx="661" cy="279.69" r="1.55" fill="#0b8480"/>
<circle cx="663" cy="278.97" r="1.55" fill="#0b8480"/>
<circle cx="665" cy="279.27" r="1.55" fill="#0b8480"/>
<circle cx="667" cy="279.07" r="1.55" fill="#0b8480"/>
<circle cx="669" cy="278.9" r="1.55" fill="#0b8480"/>
<circle cx="671" cy="278.97" r="1.55" fill="#0b8480"/>
<circle cx="673" cy="278.97" r="1.55" fill="#0b8480"/>
<rect x="502" y="155.6" width="185.8" height="130.2" fill="none" stroke="#2a2a2a" stroke-width="1.35"/>
<line x1="502" y1="220.2" x2="687.8" y2="220.2" stroke="#2a2a2a" stroke-width="1.35" />
<line x1="518.2" y1="219.5" x2="518.2" y2="216.9" stroke="#222" stroke-width="1.0" />
<line x1="552.04" y1="219.5" x2="552.04" y2="216.9" stroke="#222" stroke-width="1.0" />
<line x1="585.88" y1="219.5" x2="585.88" y2="216.9" stroke="#222" stroke-width="1.0" />
<line x1="619.72" y1="219.5" x2="619.72" y2="216.9" stroke="#222" stroke-width="1.0" />
<line x1="653.56" y1="219.5" x2="653.56" y2="216.9" stroke="#222" stroke-width="1.0" />
<line x1="687.4" y1="219.5" x2="687.4" y2="216.9" stroke="#222" stroke-width="1.0" />
<line x1="535.12" y1="219.5" x2="535.12" y2="218.2" stroke="#222" stroke-width="1.0" />
<line x1="568.96" y1="219.5" x2="568.96" y2="218.2" stroke="#222" stroke-width="1.0" />
<line x1="602.8" y1="219.5" x2="602.8" y2="218.2" stroke="#222" stroke-width="1.0" />
<line x1="636.64" y1="219.5" x2="636.64" y2="218.2" stroke="#222" stroke-width="1.0" />
<line x1="670.48" y1="219.5" x2="670.48" y2="218.2" stroke="#222" stroke-width="1.0" />
<line x1="518.2" y1="285.1" x2="518.2" y2="282.5" stroke="#222" stroke-width="1.0" />
<line x1="552.04" y1="285.1" x2="552.04" y2="282.5" stroke="#222" stroke-width="1.0" />
<line x1="585.88" y1="285.1" x2="585.88" y2="282.5" stroke="#222" stroke-width="1.0" />
<line x1="619.72" y1="285.1" x2="619.72" y2="282.5" stroke="#222" stroke-width="1.0" />
<line x1="653.56" y1="285.1" x2="653.56" y2="282.5" stroke="#222" stroke-width="1.0" />
<line x1="687.4" y1="285.1" x2="687.4" y2="282.5" stroke="#222" stroke-width="1.0" />
<line x1="535.12" y1="285.1" x2="535.12" y2="283.8" stroke="#222" stroke-width="1.0" />
<line x1="568.96" y1="285.1" x2="568.96" y2="283.8" stroke="#222" stroke-width="1.0" />
<line x1="602.8" y1="285.1" x2="602.8" y2="283.8" stroke="#222" stroke-width="1.0" />
<line x1="636.64" y1="285.1" x2="636.64" y2="283.8" stroke="#222" stroke-width="1.0" />
<line x1="670.48" y1="285.1" x2="670.48" y2="283.8" stroke="#222" stroke-width="1.0" />
<line x1="502.7" y1="214.1" x2="505.3" y2="214.1" stroke="#222" stroke-width="1.0" />
<line x1="502.7" y1="190.75" x2="505.3" y2="190.75" stroke="#222" stroke-width="1.0" />
<line x1="502.7" y1="167.4" x2="505.3" y2="167.4" stroke="#222" stroke-width="1.0" />
<line x1="502.7" y1="202.42" x2="504" y2="202.42" stroke="#222" stroke-width="1.0" />
<line x1="502.7" y1="179.07" x2="504" y2="179.07" stroke="#222" stroke-width="1.0" />
<line x1="502.7" y1="279.7" x2="505.3" y2="279.7" stroke="#222" stroke-width="1.0" />
<line x1="502.7" y1="255.9" x2="505.3" y2="255.9" stroke="#222" stroke-width="1.0" />
<line x1="502.7" y1="232.1" x2="505.3" y2="232.1" stroke="#222" stroke-width="1.0" />
<line x1="502.7" y1="267.8" x2="504" y2="267.8" stroke="#222" stroke-width="1.0" />
<line x1="502.7" y1="244" x2="504" y2="244" stroke="#222" stroke-width="1.0" />
<text x="465.6" y="172.2" font-size="29" fill="#000" font-weight="bold" text-anchor="start" >e</text>
<text x="498.6" y="216.4" font-size="7.9" fill="#000" font-weight="bold" text-anchor="end" >0.00</text>
<text x="498.6" y="281.7" font-size="7.9" fill="#000" font-weight="bold" text-anchor="end" >0.00</text>
<text x="498.6" y="193.05" font-size="7.9" fill="#000" font-weight="bold" text-anchor="end" >0.02</text>
<text x="498.6" y="257.9" font-size="7.9" fill="#000" font-weight="bold" text-anchor="end" >0.02</text>
<text x="498.6" y="169.7" font-size="7.9" fill="#000" font-weight="bold" text-anchor="end" >0.04</text>
<text x="498.6" y="234.1" font-size="7.9" fill="#000" font-weight="bold" text-anchor="end" >0.04</text>
<text x="518.2" y="295.2" font-size="8.5" fill="#000" font-weight="bold" text-anchor="middle" >0</text>
<text x="552.04" y="295.2" font-size="8.5" fill="#000" font-weight="bold" text-anchor="middle" >1</text>
<text x="585.88" y="295.2" font-size="8.5" fill="#000" font-weight="bold" text-anchor="middle" >2</text>
<text x="619.72" y="295.2" font-size="8.5" fill="#000" font-weight="bold" text-anchor="middle" >3</text>
<text x="653.56" y="295.2" font-size="8.5" fill="#000" font-weight="bold" text-anchor="middle" >4</text>
<text x="687.4" y="295.2" font-size="8.5" fill="#000" font-weight="bold" text-anchor="middle" >5</text>
<text x="595.6" y="170" font-size="9.6" fill="#000" font-weight="bold" text-anchor="start" textLength="84.7" lengthAdjust="spacingAndGlyphs" >Ni-Co@Fe-Co PBA</text>
<text x="620.3" y="234.3" font-size="9.6" fill="#000" font-weight="bold" text-anchor="start" textLength="59" lengthAdjust="spacingAndGlyphs" >NiFe-Co PBA</text>
<text x="595.2" y="305.1" font-size="10.5" fill="#000" font-weight="bold" text-anchor="middle" textLength="57.8" lengthAdjust="spacingAndGlyphs" >Pore size (nm)</text>
<text x="0" y="0" font-size="10" fill="#000" font-weight="bold" text-anchor="middle" textLength="86" lengthAdjust="spacingAndGlyphs" transform="translate(481.9,220.1) rotate(-90)">dV/dD (cm<tspan font-size="6.5" dy="-3.5">3</tspan><tspan dy="3.5"> g</tspan><tspan font-size="6.5" dy="-3.5">-1</tspan><tspan dy="3.5"> nm</tspan><tspan font-size="6.5" dy="-3.5">-1</tspan><tspan dy="3.5">)</tspan></text>
</svg>
</body></html>
